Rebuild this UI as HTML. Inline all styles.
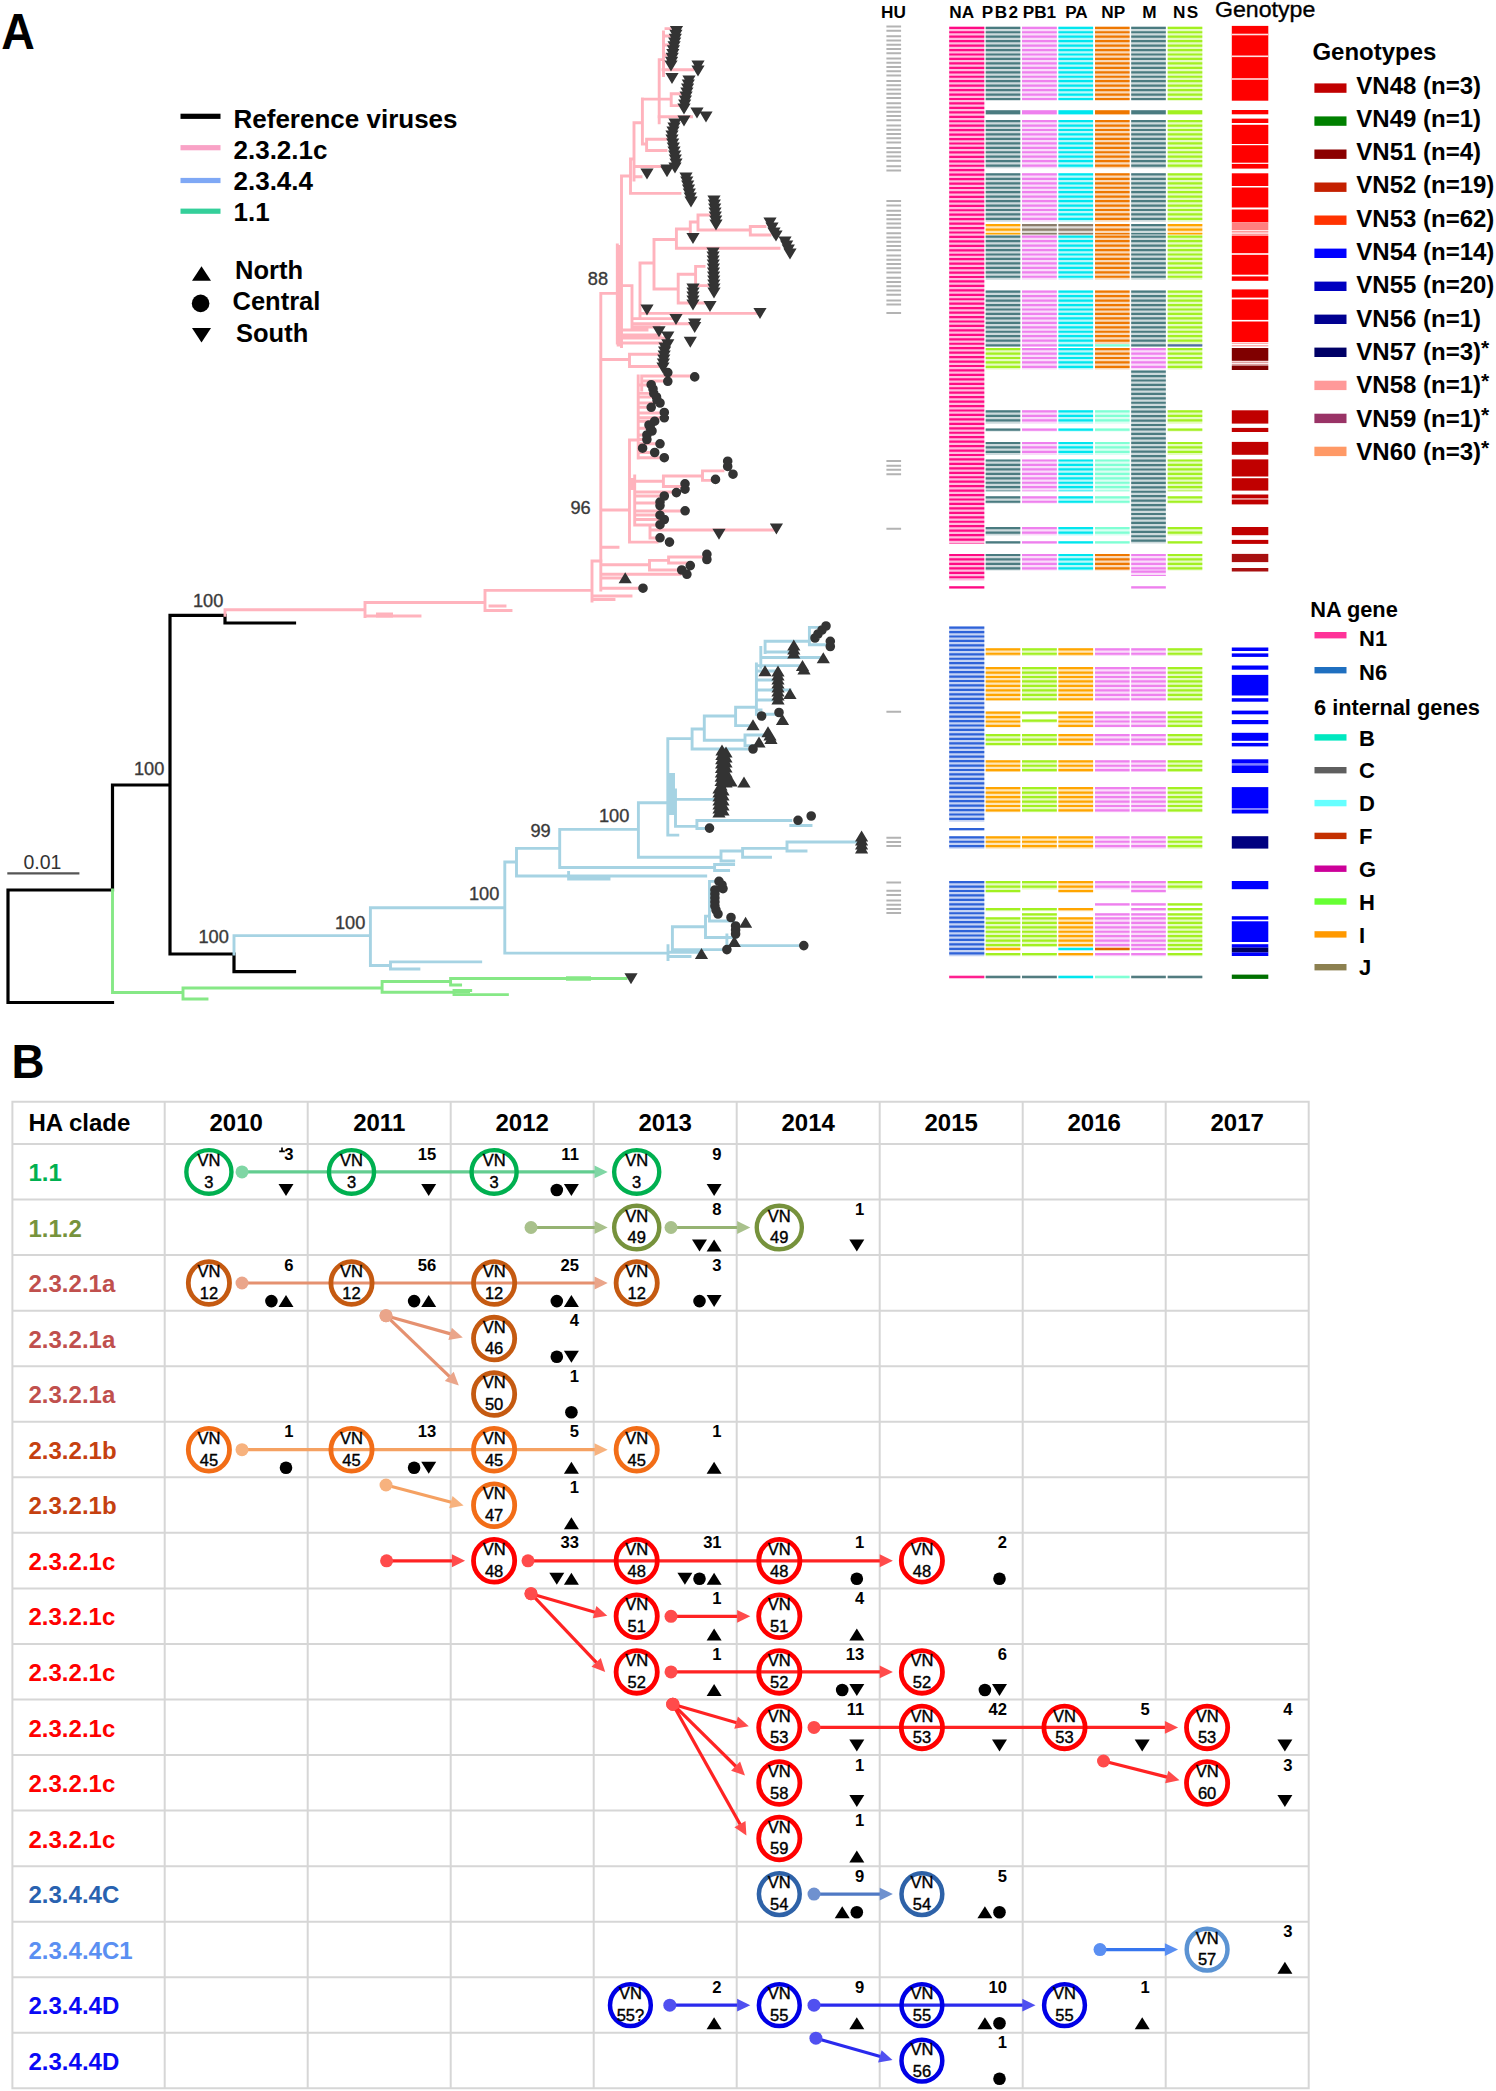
<!DOCTYPE html>
<html><head><meta charset="utf-8"><title>Figure</title>
<style>html,body{margin:0;padding:0;background:#fff;}body{width:1496px;height:2091px;overflow:hidden;font-family:"Liberation Sans",sans-serif;}svg{display:block;}</style>
</head><body>
<svg width="1496" height="2091" viewBox="0 0 1496 2091" font-family="'Liberation Sans', sans-serif">
<rect width="1496" height="2091" fill="#fff"/>
<path d="M8.0 890.0V1002.5M8.0 1002.5H112.5M8.0 890.0H112.5M112.5 785.0V890.0M112.5 785.0H170.0M170.0 615.3V954.0M170.0 615.3H225.0M225.0 615.3V623.0M225.0 623.0H294.5M170.0 954.0H234.0M234.0 954.0V971.6M234.0 971.6H294.5" stroke="#000000" stroke-width="3.2" fill="none" stroke-linecap="square"/>
<path d="M112.5 890.0V992.5M112.5 992.5H183.0M183.0 988.0V999.0M183.0 988.0H382.1M183.0 999.0H207.0M382.1 981.5V992.2M382.1 981.5H450.6M450.6 978.5V985.0M450.6 978.5H626.0M450.6 985.0H460.6M382.1 992.2H454.0M454.0 990.5V994.6M454.0 994.6H507.4M454.0 990.5H470.7" stroke="#86e886" stroke-width="2.9" fill="none" stroke-linecap="square"/>
<path d="M566.0 978.5H591.0M454.0 991.2H470.0" stroke="#86e886" stroke-width="4.5" fill="none"/>
<path d="M234.0 936.0V954.0M234.0 935.6H370.4M370.4 907.7V965.5M370.4 965.5H390.5M390.5 961.9V969.0M390.5 961.9H480.7M390.5 969.0H418.9M370.4 907.7H504.8M504.8 861.9V953.1M504.8 953.1H668.0M504.8 862.0H516.5M516.5 848.4V876.0M516.5 848.4H559.7M516.5 876.0H705.7M568.6 872.5V879.0M568.6 879.0H609.0M559.7 829.4V867.5M559.7 867.5H714.6M714.6 864.5V870.5M714.6 864.5H733.6M714.6 870.5H728.6M559.7 829.4H638.4M638.4 802.7V857.3M638.4 857.3H721.0M721.0 851.0V861.0M721.0 851.0H742.6M742.6 848.4V857.3M742.6 848.4H787.0M787.0 842.0V851.0M787.0 842.0H857.0M787.0 851.0H806.0M742.6 857.3H770.5M721.0 861.0H733.7M638.4 802.7H667.8M667.8 738.6V835.1M667.8 835.1H677.8M675.5 790.0V826.4M675.5 799.4H716.5M675.5 826.4H696.9M696.9 820.5V828.5M696.9 820.5H790.8M696.9 828.5H704.5M790.8 825.5H811.0M667.8 738.6H692.1M692.1 729.0V749.0M692.1 749.0H746.9M692.1 729.0H704.3M704.3 716.0V740.3M704.3 740.3H745.0M745.0 735.0V745.6M745.0 735.0H768.0M745.0 745.6H759.0M704.3 716.0H735.6M735.6 707.3V725.6M735.6 725.6H753.0M735.6 707.3H756.4M756.4 663.9V714.3M756.4 714.3H779.0M756.4 710.0H761.0M756.4 700.0H778.0M756.4 690.0H790.0M756.4 680.0H778.0M756.4 671.0H778.0M756.4 665.6H802.5M760.8 647.4V667.4M765.1 641.3V652.6M765.1 641.3H809.4M809.4 627.4V644.8M809.4 627.4H825.0M809.4 644.8H830.3M765.1 652.0H793.8M760.8 657.5H823.3M668.0 945.6V959.6M672.4 926.8V952.2M668.0 952.2H698.8M668.0 956.5H690.0M672.4 926.8H705.5M705.5 916.1V937.5M705.5 937.5H735.6M705.5 916.1H709.5M709.5 881.4V918.8M709.5 881.4H719.0M709.5 921.0H733.6M726.9 945.6H803.8M672.4 949.6H726.9M726.9 935.0V949.6" stroke="#a6d3e3" stroke-width="2.9" fill="none" stroke-linecap="square"/>
<path d="M671.5 773.0V815.0" stroke="#a6d3e3" stroke-width="7" fill="none"/>
<path d="M225.0 609.8V615.3M225.0 609.8H365.0M365.0 602.5V616.5M365.0 616.0H420.0M365.0 602.5H485.0M485.0 590.4V610.5M485.0 610.5H511.0M490.0 606.0H505.0M485.0 590.4H592.0M592.0 561.0V601.0M592.0 596.0H631.0M592.0 599.5H614.0M592.0 561.0H601.0M600.8 293.4V590.0M601.0 564.7H649.5M649.5 560.4V570.0M649.5 560.4H668.6M668.6 557.0V563.0M668.6 557.0H702.5M668.6 563.0H690.0M649.5 570.0H680.0M601.0 574.3H680.0M601.0 578.0H625.0M601.0 588.2H638.0M601.0 547.3H618.0M601.0 510.0H629.5M629.5 440.0V542.0M629.5 542.1H657.0M650.0 530.0H776.0M650.0 525.0V538.0M650.0 538.0H660.0M634.7 481.3H663.4M663.4 476.0V486.5M663.4 476.0H702.5M702.5 470.9V480.4M702.5 470.9H723.0M702.5 480.4H715.0M663.4 486.5H681.7M634.7 476.0V525.0M634.7 492.0H676.0M634.7 496.0H664.0M634.7 503.0H660.0M634.7 511.0H685.0M634.7 515.0H660.0M634.7 519.5H664.0M634.7 525.0H660.0M601.0 359.5H629.5M629.5 354.3V366.5M629.5 354.3H658.0M629.5 366.5H658.0M629.5 440.0H638.2M638.2 376.0V458.0M641.7 376.0V390.0M641.7 376.0H694.7M641.7 381.0H668.0M638.2 385.0H651.0M638.2 393.4H654.0M638.2 397.0H656.0M638.2 403.0H660.0M638.2 407.3H651.0M638.2 413.0H664.0M638.2 417.8H664.0M638.2 421.2H655.0M638.2 428.2H650.0M638.2 435.0H647.0M638.2 439.5H647.0M638.2 443.8H660.0M638.2 448.2H643.0M638.2 452.5H655.0M638.2 457.7H664.0M601.0 293.4H617.3M617.3 245.0V343.0M617.3 343.0H661.0M621.5 176.0V346.5M621.5 330.0H647.0M621.5 335.0H660.0M621.5 338.0H668.0M640.0 313.4H760.0M640.0 263.0V317.0M640.0 263.0H654.0M654.0 239.5V289.0M654.0 239.5H676.4M676.4 229.0V248.2M676.4 248.2H779.0M676.4 229.0H690.3M690.3 222.0V237.0M690.3 237.0H693.0M690.3 222.0H698.0M698.0 215.0V230.0M698.0 215.0H709.5M698.0 230.0H750.3M750.3 226.5V235.0M750.3 226.5H765.0M750.3 235.0H770.0M654.0 289.0H678.2M678.2 274.3V303.0M678.2 274.3H695.6M695.6 266.4V285.6M695.6 266.4H704.0M695.6 285.6H707.7M678.2 303.0H704.0M632.0 285.6V327.0M632.0 318.6H676.0M632.0 323.8H694.0M632.0 327.0H659.0M621.5 285.6H632.0M621.5 176.0H630.5M630.5 159.0V193.4M630.5 193.4H680.0M630.5 159.0H634.0M634.0 122.7V180.0M634.0 166.5H667.0M634.0 176.7H641.0M634.0 122.7H642.4M642.4 99.0V144.0M642.4 144.0H646.6M646.6 139.3V150.5M646.6 139.3H666.0M646.6 150.5H666.0M642.4 99.1H671.2M671.2 93.8V105.6M671.2 93.8H685.0M671.2 105.6H682.0M659.2 59.6V122.7M659.2 59.6H663.5M663.5 32.0V75.6M663.0 69.7H692.6M659.0 116.8H691.5M666.0 28.6H670.0M663.5 36.0H676.0M663.5 45.0H675.0M663.5 55.0H673.0" stroke="#ffb3bd" stroke-width="2.9" fill="none" stroke-linecap="square"/>
<path d="M619.2 245.0V346.5M632.2 478.0V490.0M376.0 615.0H393.0" stroke="#ffb3bd" stroke-width="5" fill="none"/>
<path d="M7.3 873.4H79.4" stroke="#555" stroke-width="2.2"/>
<text x="42.5" y="869" font-size="19.5" text-anchor="middle" fill="#333">0.01</text>
<text x="193" y="606.5" font-size="18.2" fill="#3a3a3a" stroke="#3a3a3a" stroke-width="0.35">100</text>
<text x="134" y="775" font-size="18.2" fill="#3a3a3a" stroke="#3a3a3a" stroke-width="0.35">100</text>
<text x="198.5" y="943" font-size="18.2" fill="#3a3a3a" stroke="#3a3a3a" stroke-width="0.35">100</text>
<text x="335" y="928.7" font-size="18.2" fill="#3a3a3a" stroke="#3a3a3a" stroke-width="0.35">100</text>
<text x="469" y="899.6" font-size="18.2" fill="#3a3a3a" stroke="#3a3a3a" stroke-width="0.35">100</text>
<text x="530.5" y="837" font-size="18.2" fill="#3a3a3a" stroke="#3a3a3a" stroke-width="0.35">99</text>
<text x="599" y="822" font-size="18.2" fill="#3a3a3a" stroke="#3a3a3a" stroke-width="0.35">100</text>
<text x="587.8" y="284.5" font-size="18.2" fill="#3a3a3a" stroke="#3a3a3a" stroke-width="0.35">88</text>
<text x="570.4" y="514.3" font-size="18.2" fill="#3a3a3a" stroke="#3a3a3a" stroke-width="0.35">96</text>
<path d="M669.9 26.0h13.2l-6.6 11.0zM669.3 29.8h13.2l-6.6 11.0zM668.7 33.7h13.2l-6.6 11.0zM668.1 37.5h13.2l-6.6 11.0zM667.5 41.3h13.2l-6.6 11.0zM666.8 45.2h13.2l-6.6 11.0zM666.2 49.0h13.2l-6.6 11.0zM665.6 52.8h13.2l-6.6 11.0zM665.0 56.7h13.2l-6.6 11.0zM664.4 60.5h13.2l-6.6 11.0zM691.4 60.5h13.2l-6.6 11.0zM691.4 65.5h13.2l-6.6 11.0zM665.4 73.0h13.2l-6.6 11.0zM682.4 75.5h13.2l-6.6 11.0zM681.7 79.5h13.2l-6.6 11.0zM681.0 83.5h13.2l-6.6 11.0zM680.3 87.5h13.2l-6.6 11.0zM679.5 91.5h13.2l-6.6 11.0zM678.8 95.5h13.2l-6.6 11.0zM678.1 99.5h13.2l-6.6 11.0zM677.4 103.5h13.2l-6.6 11.0zM690.4 107.5h13.2l-6.6 11.0zM699.4 111.5h13.2l-6.6 11.0zM677.4 115.5h13.2l-6.6 11.0zM668.4 118.5h13.2l-6.6 11.0zM667.4 122.5h13.2l-6.6 11.0zM666.4 126.5h13.2l-6.6 11.0zM665.4 130.5h13.2l-6.6 11.0zM665.4 134.5h13.2l-6.6 11.0zM666.1 138.5h13.2l-6.6 11.0zM666.7 142.5h13.2l-6.6 11.0zM667.4 146.5h13.2l-6.6 11.0zM668.1 150.5h13.2l-6.6 11.0zM668.7 154.5h13.2l-6.6 11.0zM669.4 158.5h13.2l-6.6 11.0zM668.4 162.5h13.2l-6.6 11.0zM660.4 164.5h13.2l-6.6 11.0zM640.4 168.5h13.2l-6.6 11.0zM660.4 166.2h13.2l-6.6 11.0zM679.4 172.5h13.2l-6.6 11.0zM680.2 176.5h13.2l-6.6 11.0zM681.1 180.5h13.2l-6.6 11.0zM681.9 184.5h13.2l-6.6 11.0zM682.7 188.5h13.2l-6.6 11.0zM683.6 192.5h13.2l-6.6 11.0zM684.4 196.5h13.2l-6.6 11.0zM706.4 247.5h13.2l-6.6 11.0zM706.5 251.5h13.2l-6.6 11.0zM706.6 255.5h13.2l-6.6 11.0zM706.7 259.5h13.2l-6.6 11.0zM706.8 263.5h13.2l-6.6 11.0zM706.9 267.5h13.2l-6.6 11.0zM707.0 271.5h13.2l-6.6 11.0zM707.1 275.5h13.2l-6.6 11.0zM707.2 279.5h13.2l-6.6 11.0zM707.3 283.5h13.2l-6.6 11.0zM707.4 287.5h13.2l-6.6 11.0zM707.4 195.5h13.2l-6.6 11.0zM707.7 199.5h13.2l-6.6 11.0zM708.1 203.5h13.2l-6.6 11.0zM708.4 207.5h13.2l-6.6 11.0zM708.7 211.5h13.2l-6.6 11.0zM709.1 215.5h13.2l-6.6 11.0zM709.4 219.5h13.2l-6.6 11.0zM686.4 233.1h13.2l-6.6 11.0zM763.4 217.5h13.2l-6.6 11.0zM765.4 222.5h13.2l-6.6 11.0zM767.4 227.5h13.2l-6.6 11.0zM778.4 236.5h13.2l-6.6 11.0zM780.1 240.5h13.2l-6.6 11.0zM781.7 244.5h13.2l-6.6 11.0zM783.4 248.5h13.2l-6.6 11.0zM769.4 230.5h13.2l-6.6 11.0zM765.4 222.5h13.2l-6.6 11.0zM686.4 283.5h13.2l-6.6 11.0zM686.4 287.5h13.2l-6.6 11.0zM686.4 291.5h13.2l-6.6 11.0zM686.4 295.5h13.2l-6.6 11.0zM686.4 299.5h13.2l-6.6 11.0zM703.4 300.9h13.2l-6.6 11.0zM640.4 304.5h13.2l-6.6 11.0zM753.4 307.9h13.2l-6.6 11.0zM669.4 314.0h13.2l-6.6 11.0zM688.1 318.5h13.2l-6.6 11.0zM688.1 321.9h13.2l-6.6 11.0zM652.4 326.2h13.2l-6.6 11.0zM661.2 331.5h13.2l-6.6 11.0zM683.7 336.7h13.2l-6.6 11.0zM661.2 339.3h13.2l-6.6 11.0zM658.4 342.5h13.2l-6.6 11.0zM658.0 346.5h13.2l-6.6 11.0zM657.6 350.5h13.2l-6.6 11.0zM657.2 354.5h13.2l-6.6 11.0zM656.8 358.5h13.2l-6.6 11.0zM656.4 362.5h13.2l-6.6 11.0zM769.8 523.6h13.2l-6.6 11.0zM712.4 528.8h13.2l-6.6 11.0zM624.4 973.3h13.2l-6.6 11.0z" fill="#333333"/>
<path d="M618.6 583.2h13.2l-6.6 -11.0zM787.2 650.5h13.2l-6.6 -11.0zM787.2 654.5h13.2l-6.6 -11.0zM787.2 658.5h13.2l-6.6 -11.0zM816.7 663.3h13.2l-6.6 -11.0zM795.9 671.1h13.2l-6.6 -11.0zM797.4 674.5h13.2l-6.6 -11.0zM758.4 676.3h13.2l-6.6 -11.0zM771.4 676.5h13.2l-6.6 -11.0zM771.4 680.5h13.2l-6.6 -11.0zM771.4 684.5h13.2l-6.6 -11.0zM771.4 688.5h13.2l-6.6 -11.0zM771.4 692.5h13.2l-6.6 -11.0zM771.4 696.5h13.2l-6.6 -11.0zM771.4 700.5h13.2l-6.6 -11.0zM771.4 704.5h13.2l-6.6 -11.0zM783.4 698.9h13.2l-6.6 -11.0zM775.9 725.0h13.2l-6.6 -11.0zM761.4 737.2h13.2l-6.6 -11.0zM763.4 740.5h13.2l-6.6 -11.0zM764.4 744.1h13.2l-6.6 -11.0zM752.4 747.5h13.2l-6.6 -11.0zM746.4 730.2h13.2l-6.6 -11.0zM715.4 755.5h13.2l-6.6 -11.0zM715.3 759.9h13.2l-6.6 -11.0zM715.1 764.2h13.2l-6.6 -11.0zM715.0 768.6h13.2l-6.6 -11.0zM714.9 773.0h13.2l-6.6 -11.0zM714.8 777.4h13.2l-6.6 -11.0zM714.6 781.8h13.2l-6.6 -11.0zM714.5 786.1h13.2l-6.6 -11.0zM714.4 790.5h13.2l-6.6 -11.0zM719.4 757.5h13.2l-6.6 -11.0zM719.4 762.5h13.2l-6.6 -11.0zM719.4 767.5h13.2l-6.6 -11.0zM719.4 772.5h13.2l-6.6 -11.0zM719.4 777.5h13.2l-6.6 -11.0zM719.4 782.5h13.2l-6.6 -11.0zM719.4 787.5h13.2l-6.6 -11.0zM712.4 793.5h13.2l-6.6 -11.0zM712.4 797.5h13.2l-6.6 -11.0zM712.4 801.5h13.2l-6.6 -11.0zM712.4 805.5h13.2l-6.6 -11.0zM712.4 809.5h13.2l-6.6 -11.0zM712.4 813.5h13.2l-6.6 -11.0zM712.4 817.5h13.2l-6.6 -11.0zM716.4 795.5h13.2l-6.6 -11.0zM716.4 800.5h13.2l-6.6 -11.0zM716.4 805.5h13.2l-6.6 -11.0zM716.4 810.5h13.2l-6.6 -11.0zM716.4 815.5h13.2l-6.6 -11.0zM737.4 787.5h13.2l-6.6 -11.0zM724.4 786.5h13.2l-6.6 -11.0zM855.0 841.5h13.2l-6.6 -11.0zM855.0 845.5h13.2l-6.6 -11.0zM855.0 849.5h13.2l-6.6 -11.0zM855.0 853.5h13.2l-6.6 -11.0zM739.0 927.7h13.2l-6.6 -11.0zM727.7 947.1h13.2l-6.6 -11.0zM694.9 959.1h13.2l-6.6 -11.0z" fill="#333333"/>
<path d="M663.0 372.6a4.8 4.8 0 1 0 9.6 0a4.8 4.8 0 1 0 -9.6 0zM689.9 376.9a4.8 4.8 0 1 0 9.6 0a4.8 4.8 0 1 0 -9.6 0zM663.0 381.3a4.8 4.8 0 1 0 9.6 0a4.8 4.8 0 1 0 -9.6 0zM646.4 384.7a4.8 4.8 0 1 0 9.6 0a4.8 4.8 0 1 0 -9.6 0zM649.0 393.4a4.8 4.8 0 1 0 9.6 0a4.8 4.8 0 1 0 -9.6 0zM651.7 397.0a4.8 4.8 0 1 0 9.6 0a4.8 4.8 0 1 0 -9.6 0zM655.2 403.0a4.8 4.8 0 1 0 9.6 0a4.8 4.8 0 1 0 -9.6 0zM646.4 407.3a4.8 4.8 0 1 0 9.6 0a4.8 4.8 0 1 0 -9.6 0zM659.5 412.5a4.8 4.8 0 1 0 9.6 0a4.8 4.8 0 1 0 -9.6 0zM659.5 417.8a4.8 4.8 0 1 0 9.6 0a4.8 4.8 0 1 0 -9.6 0zM649.9 421.2a4.8 4.8 0 1 0 9.6 0a4.8 4.8 0 1 0 -9.6 0zM645.6 428.2a4.8 4.8 0 1 0 9.6 0a4.8 4.8 0 1 0 -9.6 0zM642.1 435.0a4.8 4.8 0 1 0 9.6 0a4.8 4.8 0 1 0 -9.6 0zM642.1 439.5a4.8 4.8 0 1 0 9.6 0a4.8 4.8 0 1 0 -9.6 0zM655.2 443.8a4.8 4.8 0 1 0 9.6 0a4.8 4.8 0 1 0 -9.6 0zM637.8 448.2a4.8 4.8 0 1 0 9.6 0a4.8 4.8 0 1 0 -9.6 0zM649.9 452.5a4.8 4.8 0 1 0 9.6 0a4.8 4.8 0 1 0 -9.6 0zM659.5 457.7a4.8 4.8 0 1 0 9.6 0a4.8 4.8 0 1 0 -9.6 0zM722.9 461.2a4.8 4.8 0 1 0 9.6 0a4.8 4.8 0 1 0 -9.6 0zM722.9 466.4a4.8 4.8 0 1 0 9.6 0a4.8 4.8 0 1 0 -9.6 0zM728.2 474.2a4.8 4.8 0 1 0 9.6 0a4.8 4.8 0 1 0 -9.6 0zM710.7 479.4a4.8 4.8 0 1 0 9.6 0a4.8 4.8 0 1 0 -9.6 0zM680.2 483.8a4.8 4.8 0 1 0 9.6 0a4.8 4.8 0 1 0 -9.6 0zM680.2 489.1a4.8 4.8 0 1 0 9.6 0a4.8 4.8 0 1 0 -9.6 0zM671.6 492.6a4.8 4.8 0 1 0 9.6 0a4.8 4.8 0 1 0 -9.6 0zM659.5 496.0a4.8 4.8 0 1 0 9.6 0a4.8 4.8 0 1 0 -9.6 0zM655.2 502.1a4.8 4.8 0 1 0 9.6 0a4.8 4.8 0 1 0 -9.6 0zM655.2 505.6a4.8 4.8 0 1 0 9.6 0a4.8 4.8 0 1 0 -9.6 0zM680.3 510.8a4.8 4.8 0 1 0 9.6 0a4.8 4.8 0 1 0 -9.6 0zM655.2 515.2a4.8 4.8 0 1 0 9.6 0a4.8 4.8 0 1 0 -9.6 0zM659.5 519.5a4.8 4.8 0 1 0 9.6 0a4.8 4.8 0 1 0 -9.6 0zM655.2 524.7a4.8 4.8 0 1 0 9.6 0a4.8 4.8 0 1 0 -9.6 0zM655.2 537.8a4.8 4.8 0 1 0 9.6 0a4.8 4.8 0 1 0 -9.6 0zM664.7 542.1a4.8 4.8 0 1 0 9.6 0a4.8 4.8 0 1 0 -9.6 0zM702.1 554.3a4.8 4.8 0 1 0 9.6 0a4.8 4.8 0 1 0 -9.6 0zM702.1 559.5a4.8 4.8 0 1 0 9.6 0a4.8 4.8 0 1 0 -9.6 0zM685.5 565.6a4.8 4.8 0 1 0 9.6 0a4.8 4.8 0 1 0 -9.6 0zM676.9 570.0a4.8 4.8 0 1 0 9.6 0a4.8 4.8 0 1 0 -9.6 0zM682.1 574.3a4.8 4.8 0 1 0 9.6 0a4.8 4.8 0 1 0 -9.6 0zM638.2 588.2a4.8 4.8 0 1 0 9.6 0a4.8 4.8 0 1 0 -9.6 0zM648.2 389.0a4.8 4.8 0 1 0 9.6 0a4.8 4.8 0 1 0 -9.6 0zM652.2 400.0a4.8 4.8 0 1 0 9.6 0a4.8 4.8 0 1 0 -9.6 0zM647.2 431.0a4.8 4.8 0 1 0 9.6 0a4.8 4.8 0 1 0 -9.6 0zM644.2 425.0a4.8 4.8 0 1 0 9.6 0a4.8 4.8 0 1 0 -9.6 0zM821.2 626.0a4.8 4.8 0 1 0 9.6 0a4.8 4.8 0 1 0 -9.6 0zM817.2 630.0a4.8 4.8 0 1 0 9.6 0a4.8 4.8 0 1 0 -9.6 0zM813.2 634.0a4.8 4.8 0 1 0 9.6 0a4.8 4.8 0 1 0 -9.6 0zM810.2 638.0a4.8 4.8 0 1 0 9.6 0a4.8 4.8 0 1 0 -9.6 0zM825.5 641.3a4.8 4.8 0 1 0 9.6 0a4.8 4.8 0 1 0 -9.6 0zM825.5 646.5a4.8 4.8 0 1 0 9.6 0a4.8 4.8 0 1 0 -9.6 0zM756.8 716.0a4.8 4.8 0 1 0 9.6 0a4.8 4.8 0 1 0 -9.6 0zM774.2 712.5a4.8 4.8 0 1 0 9.6 0a4.8 4.8 0 1 0 -9.6 0zM748.2 749.0a4.8 4.8 0 1 0 9.6 0a4.8 4.8 0 1 0 -9.6 0zM704.7 828.1a4.8 4.8 0 1 0 9.6 0a4.8 4.8 0 1 0 -9.6 0zM793.2 820.3a4.8 4.8 0 1 0 9.6 0a4.8 4.8 0 1 0 -9.6 0zM806.4 816.0a4.8 4.8 0 1 0 9.6 0a4.8 4.8 0 1 0 -9.6 0zM714.2 881.4a4.8 4.8 0 1 0 9.6 0a4.8 4.8 0 1 0 -9.6 0zM717.2 885.0a4.8 4.8 0 1 0 9.6 0a4.8 4.8 0 1 0 -9.6 0zM718.2 888.6a4.8 4.8 0 1 0 9.6 0a4.8 4.8 0 1 0 -9.6 0zM710.1 890.0a4.8 4.8 0 1 0 9.6 0a4.8 4.8 0 1 0 -9.6 0zM710.1 894.0a4.8 4.8 0 1 0 9.6 0a4.8 4.8 0 1 0 -9.6 0zM710.1 898.0a4.8 4.8 0 1 0 9.6 0a4.8 4.8 0 1 0 -9.6 0zM710.1 902.0a4.8 4.8 0 1 0 9.6 0a4.8 4.8 0 1 0 -9.6 0zM710.1 906.0a4.8 4.8 0 1 0 9.6 0a4.8 4.8 0 1 0 -9.6 0zM711.2 910.0a4.8 4.8 0 1 0 9.6 0a4.8 4.8 0 1 0 -9.6 0zM713.2 914.0a4.8 4.8 0 1 0 9.6 0a4.8 4.8 0 1 0 -9.6 0zM726.2 917.5a4.8 4.8 0 1 0 9.6 0a4.8 4.8 0 1 0 -9.6 0zM730.8 926.0a4.8 4.8 0 1 0 9.6 0a4.8 4.8 0 1 0 -9.6 0zM730.8 930.0a4.8 4.8 0 1 0 9.6 0a4.8 4.8 0 1 0 -9.6 0zM730.8 934.0a4.8 4.8 0 1 0 9.6 0a4.8 4.8 0 1 0 -9.6 0zM722.1 949.6a4.8 4.8 0 1 0 9.6 0a4.8 4.8 0 1 0 -9.6 0zM799.0 945.6a4.8 4.8 0 1 0 9.6 0a4.8 4.8 0 1 0 -9.6 0z" fill="#333333"/>
<path d="M949.2 26.70h35.1v516.70h-35.1zM949.2 553.90h35.1v26.50h-35.1zM949.2 586.20h35.1v2.40h-35.1z" fill="#ff0a84" fill-opacity="0.28"/>
<path d="M949.2 626.50h35.1v195.20h-35.1zM949.2 828.00h35.1v2.60h-35.1zM949.2 836.20h35.1v12.60h-35.1zM949.2 881.00h35.1v75.20h-35.1z" fill="#2e62d8" fill-opacity="0.28"/>
<path d="M949.2 975.80h35.1v3.20h-35.1z" fill="#ff2090" fill-opacity="0.28"/>
<path d="M985.7 26.70h34.6v74.00h-34.6zM985.7 120.00h34.6v48.20h-34.6zM985.7 173.30h34.6v48.50h-34.6zM985.7 235.60h34.6v44.20h-34.6zM985.7 290.60h34.6v53.40h-34.6zM985.7 344.20h34.6v2.30h-34.6zM985.7 410.30h34.6v13.50h-34.6zM985.7 428.50h34.6v3.10h-34.6zM985.7 441.90h34.6v13.10h-34.6zM985.7 459.40h34.6v31.80h-34.6zM985.7 496.20h34.6v7.20h-34.6zM985.7 527.00h34.6v8.50h-34.6zM985.7 541.30h34.6v2.30h-34.6zM985.7 553.90h34.6v16.60h-34.6zM1131.2 26.70h34.6v74.00h-34.6zM1131.2 120.00h34.6v48.20h-34.6zM1131.2 173.30h34.6v48.50h-34.6zM1131.2 224.00h34.6v10.50h-34.6zM1131.2 235.60h34.6v44.20h-34.6zM1131.2 290.60h34.6v53.40h-34.6zM1131.2 344.20h34.6v2.30h-34.6zM1131.2 370.50h34.6v172.90h-34.6z" fill="#4a7b80" fill-opacity="0.28"/>
<path d="M985.7 224.00h34.6v10.50h-34.6zM985.7 648.20h34.6v7.80h-34.6zM985.7 667.00h34.6v33.70h-34.6zM985.7 711.50h34.6v15.70h-34.6zM985.7 760.20h34.6v11.90h-34.6zM985.7 787.10h34.6v25.20h-34.6zM985.7 836.20h34.6v12.60h-34.6zM985.7 947.70h34.6v3.30h-34.6zM1022.0 836.20h34.8v12.60h-34.8zM1058.4 648.20h34.7v7.80h-34.7zM1058.4 667.00h34.7v33.70h-34.7zM1058.4 711.50h34.7v15.70h-34.7zM1058.4 734.00h34.7v11.90h-34.7zM1058.4 760.20h34.7v11.90h-34.7zM1058.4 787.10h34.7v25.20h-34.7zM1058.4 836.20h34.7v12.60h-34.7zM1058.4 881.00h34.7v12.00h-34.7zM1058.4 908.00h34.7v3.20h-34.7zM1058.4 917.30h34.7v29.50h-34.7zM1058.4 953.10h34.7v3.10h-34.7zM1167.7 224.00h34.6v10.50h-34.6z" fill="#ffa500" fill-opacity="0.28"/>
<path d="M985.7 348.00h34.6v21.50h-34.6zM985.7 734.00h34.6v11.90h-34.6zM985.7 881.00h34.6v12.00h-34.6zM985.7 908.00h34.6v3.20h-34.6zM985.7 917.30h34.6v29.50h-34.6zM985.7 953.10h34.6v3.10h-34.6zM1022.0 648.20h34.8v7.80h-34.8zM1022.0 667.00h34.8v33.70h-34.8zM1022.0 711.50h34.8v3.30h-34.8zM1022.0 719.50h34.8v3.30h-34.8zM1022.0 734.00h34.8v11.90h-34.8zM1022.0 760.20h34.8v11.90h-34.8zM1022.0 787.10h34.8v25.20h-34.8zM1022.0 881.00h34.8v8.40h-34.8zM1022.0 908.00h34.8v3.20h-34.8zM1022.0 913.30h34.8v3.10h-34.8zM1022.0 917.30h34.8v29.50h-34.8zM1022.0 953.10h34.8v3.10h-34.8zM1167.7 26.70h34.6v74.00h-34.6zM1167.7 120.00h34.6v48.20h-34.6zM1167.7 173.30h34.6v48.50h-34.6zM1167.7 235.60h34.6v44.20h-34.6zM1167.7 290.60h34.6v53.40h-34.6zM1167.7 348.00h34.6v21.50h-34.6zM1167.7 410.30h34.6v13.50h-34.6zM1167.7 428.50h34.6v3.10h-34.6zM1167.7 441.90h34.6v13.10h-34.6zM1167.7 459.40h34.6v31.80h-34.6zM1167.7 496.20h34.6v7.20h-34.6zM1167.7 527.00h34.6v8.50h-34.6zM1167.7 541.30h34.6v2.30h-34.6zM1167.7 553.90h34.6v16.60h-34.6zM1167.7 648.20h34.6v7.80h-34.6zM1167.7 667.00h34.6v33.70h-34.6zM1167.7 711.50h34.6v15.70h-34.6zM1167.7 734.00h34.6v11.90h-34.6zM1167.7 760.20h34.6v11.90h-34.6zM1167.7 787.10h34.6v25.20h-34.6zM1167.7 836.20h34.6v12.60h-34.6zM1167.7 881.00h34.6v8.40h-34.6zM1167.7 903.30h34.6v2.50h-34.6zM1167.7 908.00h34.6v3.20h-34.6zM1167.7 913.30h34.6v3.10h-34.6zM1167.7 917.30h34.6v29.50h-34.6zM1167.7 947.70h34.6v3.30h-34.6zM1167.7 953.10h34.6v3.10h-34.6z" fill="#a2f020" fill-opacity="0.28"/>
<path d="M985.7 975.80h34.6v3.20h-34.6zM1022.0 975.80h34.8v3.20h-34.8zM1131.2 975.80h34.6v3.20h-34.6zM1167.7 975.80h34.6v3.20h-34.6z" fill="#527c80" fill-opacity="0.28"/>
<path d="M1022.0 26.70h34.8v74.00h-34.8zM1022.0 120.00h34.8v48.20h-34.8zM1022.0 173.30h34.8v48.50h-34.8zM1022.0 235.60h34.8v44.20h-34.8zM1022.0 290.60h34.8v53.40h-34.8zM1022.0 344.20h34.8v2.30h-34.8zM1022.0 348.00h34.8v21.50h-34.8zM1022.0 410.30h34.8v13.50h-34.8zM1022.0 428.50h34.8v3.10h-34.8zM1022.0 441.90h34.8v13.10h-34.8zM1022.0 459.40h34.8v31.80h-34.8zM1022.0 496.20h34.8v7.20h-34.8zM1022.0 527.00h34.8v8.50h-34.8zM1022.0 541.30h34.8v2.30h-34.8zM1022.0 553.90h34.8v16.60h-34.8zM1095.0 648.20h34.6v7.80h-34.6zM1095.0 667.00h34.6v33.70h-34.6zM1095.0 711.50h34.6v15.70h-34.6zM1095.0 734.00h34.6v11.90h-34.6zM1095.0 760.20h34.6v11.90h-34.6zM1095.0 787.10h34.6v25.20h-34.6zM1095.0 836.20h34.6v12.60h-34.6zM1095.0 881.00h34.6v8.40h-34.6zM1095.0 903.30h34.6v2.50h-34.6zM1095.0 913.30h34.6v3.10h-34.6zM1095.0 917.30h34.6v29.50h-34.6zM1095.0 953.10h34.6v3.10h-34.6zM1131.2 348.00h34.6v21.50h-34.6zM1131.2 553.90h34.6v16.60h-34.6zM1131.2 570.50h34.6v5.50h-34.6zM1131.2 586.20h34.6v2.40h-34.6zM1131.2 648.20h34.6v7.80h-34.6zM1131.2 667.00h34.6v33.70h-34.6zM1131.2 711.50h34.6v15.70h-34.6zM1131.2 734.00h34.6v11.90h-34.6zM1131.2 760.20h34.6v11.90h-34.6zM1131.2 787.10h34.6v25.20h-34.6zM1131.2 836.20h34.6v12.60h-34.6zM1131.2 881.00h34.6v12.00h-34.6zM1131.2 903.30h34.6v2.50h-34.6zM1131.2 908.00h34.6v3.20h-34.6zM1131.2 913.30h34.6v3.10h-34.6zM1131.2 917.30h34.6v29.50h-34.6zM1131.2 947.70h34.6v3.30h-34.6zM1131.2 953.10h34.6v3.10h-34.6z" fill="#ee80ee" fill-opacity="0.28"/>
<path d="M1022.0 224.00h34.8v10.50h-34.8zM1058.4 224.00h34.7v10.50h-34.7z" fill="#8b7d6b" fill-opacity="0.28"/>
<path d="M1058.4 26.70h34.7v74.00h-34.7zM1058.4 120.00h34.7v48.20h-34.7zM1058.4 173.30h34.7v48.50h-34.7zM1058.4 235.60h34.7v44.20h-34.7zM1058.4 290.60h34.7v53.40h-34.7zM1058.4 344.20h34.7v2.30h-34.7zM1058.4 348.00h34.7v21.50h-34.7zM1058.4 410.30h34.7v13.50h-34.7zM1058.4 428.50h34.7v3.10h-34.7zM1058.4 441.90h34.7v13.10h-34.7zM1058.4 459.40h34.7v31.80h-34.7zM1058.4 496.20h34.7v7.20h-34.7zM1058.4 527.00h34.7v8.50h-34.7zM1058.4 541.30h34.7v2.30h-34.7zM1058.4 553.90h34.7v16.60h-34.7zM1058.4 947.70h34.7v3.30h-34.7zM1058.4 975.80h34.7v3.20h-34.7z" fill="#00e6ee" fill-opacity="0.28"/>
<path d="M1095.0 26.70h34.6v74.00h-34.6zM1095.0 120.00h34.6v48.20h-34.6zM1095.0 173.30h34.6v48.50h-34.6zM1095.0 224.00h34.6v10.50h-34.6zM1095.0 235.60h34.6v44.20h-34.6zM1095.0 290.60h34.6v53.40h-34.6zM1095.0 348.00h34.6v21.50h-34.6zM1095.0 553.90h34.6v16.60h-34.6z" fill="#ee7700" fill-opacity="0.28"/>
<path d="M1095.0 344.20h34.6v2.30h-34.6zM1095.0 410.30h34.6v13.50h-34.6zM1095.0 428.50h34.6v3.10h-34.6zM1095.0 441.90h34.6v13.10h-34.6zM1095.0 459.40h34.6v31.80h-34.6zM1095.0 496.20h34.6v7.20h-34.6zM1095.0 527.00h34.6v8.50h-34.6zM1095.0 541.30h34.6v2.30h-34.6zM1095.0 975.80h34.6v3.20h-34.6z" fill="#7fffd4" fill-opacity="0.28"/>
<path d="M1095.0 947.70h34.6v3.30h-34.6z" fill="#e06000" fill-opacity="0.28"/>
<path d="M1167.7 344.20h34.6v2.30h-34.6z" fill="#4f6f9f" fill-opacity="0.28"/>
<path d="M949.2 26.70h35.1v2.20h-35.1zM949.2 31.15h35.1v2.20h-35.1zM949.2 35.60h35.1v2.20h-35.1zM949.2 40.05h35.1v2.20h-35.1zM949.2 44.50h35.1v2.20h-35.1zM949.2 48.95h35.1v2.20h-35.1zM949.2 53.40h35.1v2.20h-35.1zM949.2 57.85h35.1v2.20h-35.1zM949.2 62.30h35.1v2.20h-35.1zM949.2 66.75h35.1v2.20h-35.1zM949.2 71.20h35.1v2.20h-35.1zM949.2 75.65h35.1v2.20h-35.1zM949.2 80.10h35.1v2.20h-35.1zM949.2 84.55h35.1v2.20h-35.1zM949.2 89.00h35.1v2.20h-35.1zM949.2 93.45h35.1v2.20h-35.1zM949.2 97.90h35.1v2.20h-35.1zM949.2 102.35h35.1v2.20h-35.1zM949.2 106.80h35.1v2.20h-35.1zM949.2 111.25h35.1v2.20h-35.1zM949.2 115.70h35.1v2.20h-35.1zM949.2 120.15h35.1v2.20h-35.1zM949.2 124.60h35.1v2.20h-35.1zM949.2 129.05h35.1v2.20h-35.1zM949.2 133.50h35.1v2.20h-35.1zM949.2 137.95h35.1v2.20h-35.1zM949.2 142.40h35.1v2.20h-35.1zM949.2 146.85h35.1v2.20h-35.1zM949.2 151.30h35.1v2.20h-35.1zM949.2 155.75h35.1v2.20h-35.1zM949.2 160.20h35.1v2.20h-35.1zM949.2 164.65h35.1v2.20h-35.1zM949.2 169.10h35.1v2.20h-35.1zM949.2 173.55h35.1v2.20h-35.1zM949.2 178.00h35.1v2.20h-35.1zM949.2 182.45h35.1v2.20h-35.1zM949.2 186.90h35.1v2.20h-35.1zM949.2 191.35h35.1v2.20h-35.1zM949.2 195.80h35.1v2.20h-35.1zM949.2 200.25h35.1v2.20h-35.1zM949.2 204.70h35.1v2.20h-35.1zM949.2 209.15h35.1v2.20h-35.1zM949.2 213.60h35.1v2.20h-35.1zM949.2 218.05h35.1v2.20h-35.1zM949.2 222.50h35.1v2.20h-35.1zM949.2 226.95h35.1v2.20h-35.1zM949.2 231.40h35.1v2.20h-35.1zM949.2 235.85h35.1v2.20h-35.1zM949.2 240.30h35.1v2.20h-35.1zM949.2 244.75h35.1v2.20h-35.1zM949.2 249.20h35.1v2.20h-35.1zM949.2 253.65h35.1v2.20h-35.1zM949.2 258.10h35.1v2.20h-35.1zM949.2 262.55h35.1v2.20h-35.1zM949.2 267.00h35.1v2.20h-35.1zM949.2 271.45h35.1v2.20h-35.1zM949.2 275.90h35.1v2.20h-35.1zM949.2 280.35h35.1v2.20h-35.1zM949.2 284.80h35.1v2.20h-35.1zM949.2 289.25h35.1v2.20h-35.1zM949.2 293.70h35.1v2.20h-35.1zM949.2 298.15h35.1v2.20h-35.1zM949.2 302.60h35.1v2.20h-35.1zM949.2 307.05h35.1v2.20h-35.1zM949.2 311.50h35.1v2.20h-35.1zM949.2 315.95h35.1v2.20h-35.1zM949.2 320.40h35.1v2.20h-35.1zM949.2 324.85h35.1v2.20h-35.1zM949.2 329.30h35.1v2.20h-35.1zM949.2 333.75h35.1v2.20h-35.1zM949.2 338.20h35.1v2.20h-35.1zM949.2 342.65h35.1v2.20h-35.1zM949.2 347.10h35.1v2.20h-35.1zM949.2 351.55h35.1v2.20h-35.1zM949.2 356.00h35.1v2.20h-35.1zM949.2 360.45h35.1v2.20h-35.1zM949.2 364.90h35.1v2.20h-35.1zM949.2 369.35h35.1v2.20h-35.1zM949.2 373.80h35.1v2.20h-35.1zM949.2 378.25h35.1v2.20h-35.1zM949.2 382.70h35.1v2.20h-35.1zM949.2 387.15h35.1v2.20h-35.1zM949.2 391.60h35.1v2.20h-35.1zM949.2 396.05h35.1v2.20h-35.1zM949.2 400.50h35.1v2.20h-35.1zM949.2 404.95h35.1v2.20h-35.1zM949.2 409.40h35.1v2.20h-35.1zM949.2 413.85h35.1v2.20h-35.1zM949.2 418.30h35.1v2.20h-35.1zM949.2 422.75h35.1v2.20h-35.1zM949.2 427.20h35.1v2.20h-35.1zM949.2 431.65h35.1v2.20h-35.1zM949.2 436.10h35.1v2.20h-35.1zM949.2 440.55h35.1v2.20h-35.1zM949.2 445.00h35.1v2.20h-35.1zM949.2 449.45h35.1v2.20h-35.1zM949.2 453.90h35.1v2.20h-35.1zM949.2 458.35h35.1v2.20h-35.1zM949.2 462.80h35.1v2.20h-35.1zM949.2 467.25h35.1v2.20h-35.1zM949.2 471.70h35.1v2.20h-35.1zM949.2 476.15h35.1v2.20h-35.1zM949.2 480.60h35.1v2.20h-35.1zM949.2 485.05h35.1v2.20h-35.1zM949.2 489.50h35.1v2.20h-35.1zM949.2 493.95h35.1v2.20h-35.1zM949.2 498.40h35.1v2.20h-35.1zM949.2 502.85h35.1v2.20h-35.1zM949.2 507.30h35.1v2.20h-35.1zM949.2 511.75h35.1v2.20h-35.1zM949.2 516.20h35.1v2.20h-35.1zM949.2 520.65h35.1v2.20h-35.1zM949.2 525.10h35.1v2.20h-35.1zM949.2 529.55h35.1v2.20h-35.1zM949.2 534.00h35.1v2.20h-35.1zM949.2 538.45h35.1v2.20h-35.1zM949.2 542.90h35.1v0.50h-35.1zM949.2 553.90h35.1v2.20h-35.1zM949.2 558.35h35.1v2.20h-35.1zM949.2 562.80h35.1v2.20h-35.1zM949.2 567.25h35.1v2.20h-35.1zM949.2 571.70h35.1v2.20h-35.1zM949.2 576.15h35.1v2.20h-35.1zM949.2 586.20h35.1v2.20h-35.1z" fill="#ff0a84"/>
<path d="M949.2 626.50h35.1v2.20h-35.1zM949.2 630.95h35.1v2.20h-35.1zM949.2 635.40h35.1v2.20h-35.1zM949.2 639.85h35.1v2.20h-35.1zM949.2 644.30h35.1v2.20h-35.1zM949.2 648.75h35.1v2.20h-35.1zM949.2 653.20h35.1v2.20h-35.1zM949.2 657.65h35.1v2.20h-35.1zM949.2 662.10h35.1v2.20h-35.1zM949.2 666.55h35.1v2.20h-35.1zM949.2 671.00h35.1v2.20h-35.1zM949.2 675.45h35.1v2.20h-35.1zM949.2 679.90h35.1v2.20h-35.1zM949.2 684.35h35.1v2.20h-35.1zM949.2 688.80h35.1v2.20h-35.1zM949.2 693.25h35.1v2.20h-35.1zM949.2 697.70h35.1v2.20h-35.1zM949.2 702.15h35.1v2.20h-35.1zM949.2 706.60h35.1v2.20h-35.1zM949.2 711.05h35.1v2.20h-35.1zM949.2 715.50h35.1v2.20h-35.1zM949.2 719.95h35.1v2.20h-35.1zM949.2 724.40h35.1v2.20h-35.1zM949.2 728.85h35.1v2.20h-35.1zM949.2 733.30h35.1v2.20h-35.1zM949.2 737.75h35.1v2.20h-35.1zM949.2 742.20h35.1v2.20h-35.1zM949.2 746.65h35.1v2.20h-35.1zM949.2 751.10h35.1v2.20h-35.1zM949.2 755.55h35.1v2.20h-35.1zM949.2 760.00h35.1v2.20h-35.1zM949.2 764.45h35.1v2.20h-35.1zM949.2 768.90h35.1v2.20h-35.1zM949.2 773.35h35.1v2.20h-35.1zM949.2 777.80h35.1v2.20h-35.1zM949.2 782.25h35.1v2.20h-35.1zM949.2 786.70h35.1v2.20h-35.1zM949.2 791.15h35.1v2.20h-35.1zM949.2 795.60h35.1v2.20h-35.1zM949.2 800.05h35.1v2.20h-35.1zM949.2 804.50h35.1v2.20h-35.1zM949.2 808.95h35.1v2.20h-35.1zM949.2 813.40h35.1v2.20h-35.1zM949.2 817.85h35.1v2.20h-35.1zM949.2 828.00h35.1v2.20h-35.1zM949.2 836.20h35.1v2.20h-35.1zM949.2 840.65h35.1v2.20h-35.1zM949.2 845.10h35.1v2.20h-35.1zM949.2 881.00h35.1v2.20h-35.1zM949.2 885.45h35.1v2.20h-35.1zM949.2 889.90h35.1v2.20h-35.1zM949.2 894.35h35.1v2.20h-35.1zM949.2 898.80h35.1v2.20h-35.1zM949.2 903.25h35.1v2.20h-35.1zM949.2 907.70h35.1v2.20h-35.1zM949.2 912.15h35.1v2.20h-35.1zM949.2 916.60h35.1v2.20h-35.1zM949.2 921.05h35.1v2.20h-35.1zM949.2 925.50h35.1v2.20h-35.1zM949.2 929.95h35.1v2.20h-35.1zM949.2 934.40h35.1v2.20h-35.1zM949.2 938.85h35.1v2.20h-35.1zM949.2 943.30h35.1v2.20h-35.1zM949.2 947.75h35.1v2.20h-35.1zM949.2 952.20h35.1v2.20h-35.1z" fill="#2e62d8"/>
<path d="M949.2 975.80h35.1v2.20h-35.1z" fill="#ff2090"/>
<path d="M985.7 26.70h34.6v2.20h-34.6zM985.7 31.15h34.6v2.20h-34.6zM985.7 35.60h34.6v2.20h-34.6zM985.7 40.05h34.6v2.20h-34.6zM985.7 44.50h34.6v2.20h-34.6zM985.7 48.95h34.6v2.20h-34.6zM985.7 53.40h34.6v2.20h-34.6zM985.7 57.85h34.6v2.20h-34.6zM985.7 62.30h34.6v2.20h-34.6zM985.7 66.75h34.6v2.20h-34.6zM985.7 71.20h34.6v2.20h-34.6zM985.7 75.65h34.6v2.20h-34.6zM985.7 80.10h34.6v2.20h-34.6zM985.7 84.55h34.6v2.20h-34.6zM985.7 89.00h34.6v2.20h-34.6zM985.7 93.45h34.6v2.20h-34.6zM985.7 97.90h34.6v2.20h-34.6zM985.7 120.00h34.6v2.20h-34.6zM985.7 124.45h34.6v2.20h-34.6zM985.7 128.90h34.6v2.20h-34.6zM985.7 133.35h34.6v2.20h-34.6zM985.7 137.80h34.6v2.20h-34.6zM985.7 142.25h34.6v2.20h-34.6zM985.7 146.70h34.6v2.20h-34.6zM985.7 151.15h34.6v2.20h-34.6zM985.7 155.60h34.6v2.20h-34.6zM985.7 160.05h34.6v2.20h-34.6zM985.7 164.50h34.6v2.20h-34.6zM985.7 173.30h34.6v2.20h-34.6zM985.7 177.75h34.6v2.20h-34.6zM985.7 182.20h34.6v2.20h-34.6zM985.7 186.65h34.6v2.20h-34.6zM985.7 191.10h34.6v2.20h-34.6zM985.7 195.55h34.6v2.20h-34.6zM985.7 200.00h34.6v2.20h-34.6zM985.7 204.45h34.6v2.20h-34.6zM985.7 208.90h34.6v2.20h-34.6zM985.7 213.35h34.6v2.20h-34.6zM985.7 217.80h34.6v2.20h-34.6zM985.7 235.60h34.6v2.20h-34.6zM985.7 240.05h34.6v2.20h-34.6zM985.7 244.50h34.6v2.20h-34.6zM985.7 248.95h34.6v2.20h-34.6zM985.7 253.40h34.6v2.20h-34.6zM985.7 257.85h34.6v2.20h-34.6zM985.7 262.30h34.6v2.20h-34.6zM985.7 266.75h34.6v2.20h-34.6zM985.7 271.20h34.6v2.20h-34.6zM985.7 275.65h34.6v2.20h-34.6zM985.7 290.60h34.6v2.20h-34.6zM985.7 295.05h34.6v2.20h-34.6zM985.7 299.50h34.6v2.20h-34.6zM985.7 303.95h34.6v2.20h-34.6zM985.7 308.40h34.6v2.20h-34.6zM985.7 312.85h34.6v2.20h-34.6zM985.7 317.30h34.6v2.20h-34.6zM985.7 321.75h34.6v2.20h-34.6zM985.7 326.20h34.6v2.20h-34.6zM985.7 330.65h34.6v2.20h-34.6zM985.7 335.10h34.6v2.20h-34.6zM985.7 339.55h34.6v2.20h-34.6zM985.7 344.20h34.6v2.20h-34.6zM985.7 410.30h34.6v2.20h-34.6zM985.7 414.75h34.6v2.20h-34.6zM985.7 419.20h34.6v2.20h-34.6zM985.7 428.50h34.6v2.20h-34.6zM985.7 441.90h34.6v2.20h-34.6zM985.7 446.35h34.6v2.20h-34.6zM985.7 450.80h34.6v2.20h-34.6zM985.7 459.40h34.6v2.20h-34.6zM985.7 463.85h34.6v2.20h-34.6zM985.7 468.30h34.6v2.20h-34.6zM985.7 472.75h34.6v2.20h-34.6zM985.7 477.20h34.6v2.20h-34.6zM985.7 481.65h34.6v2.20h-34.6zM985.7 486.10h34.6v2.20h-34.6zM985.7 490.55h34.6v0.65h-34.6zM985.7 496.20h34.6v2.20h-34.6zM985.7 500.65h34.6v2.20h-34.6zM985.7 527.00h34.6v2.20h-34.6zM985.7 531.45h34.6v2.20h-34.6zM985.7 541.30h34.6v2.20h-34.6zM985.7 553.90h34.6v2.20h-34.6zM985.7 558.35h34.6v2.20h-34.6zM985.7 562.80h34.6v2.20h-34.6zM985.7 567.25h34.6v2.20h-34.6zM1131.2 26.70h34.6v2.20h-34.6zM1131.2 31.15h34.6v2.20h-34.6zM1131.2 35.60h34.6v2.20h-34.6zM1131.2 40.05h34.6v2.20h-34.6zM1131.2 44.50h34.6v2.20h-34.6zM1131.2 48.95h34.6v2.20h-34.6zM1131.2 53.40h34.6v2.20h-34.6zM1131.2 57.85h34.6v2.20h-34.6zM1131.2 62.30h34.6v2.20h-34.6zM1131.2 66.75h34.6v2.20h-34.6zM1131.2 71.20h34.6v2.20h-34.6zM1131.2 75.65h34.6v2.20h-34.6zM1131.2 80.10h34.6v2.20h-34.6zM1131.2 84.55h34.6v2.20h-34.6zM1131.2 89.00h34.6v2.20h-34.6zM1131.2 93.45h34.6v2.20h-34.6zM1131.2 97.90h34.6v2.20h-34.6zM1131.2 120.00h34.6v2.20h-34.6zM1131.2 124.45h34.6v2.20h-34.6zM1131.2 128.90h34.6v2.20h-34.6zM1131.2 133.35h34.6v2.20h-34.6zM1131.2 137.80h34.6v2.20h-34.6zM1131.2 142.25h34.6v2.20h-34.6zM1131.2 146.70h34.6v2.20h-34.6zM1131.2 151.15h34.6v2.20h-34.6zM1131.2 155.60h34.6v2.20h-34.6zM1131.2 160.05h34.6v2.20h-34.6zM1131.2 164.50h34.6v2.20h-34.6zM1131.2 173.30h34.6v2.20h-34.6zM1131.2 177.75h34.6v2.20h-34.6zM1131.2 182.20h34.6v2.20h-34.6zM1131.2 186.65h34.6v2.20h-34.6zM1131.2 191.10h34.6v2.20h-34.6zM1131.2 195.55h34.6v2.20h-34.6zM1131.2 200.00h34.6v2.20h-34.6zM1131.2 204.45h34.6v2.20h-34.6zM1131.2 208.90h34.6v2.20h-34.6zM1131.2 213.35h34.6v2.20h-34.6zM1131.2 217.80h34.6v2.20h-34.6zM1131.2 224.00h34.6v2.20h-34.6zM1131.2 228.45h34.6v2.20h-34.6zM1131.2 232.90h34.6v1.60h-34.6zM1131.2 235.60h34.6v2.20h-34.6zM1131.2 240.05h34.6v2.20h-34.6zM1131.2 244.50h34.6v2.20h-34.6zM1131.2 248.95h34.6v2.20h-34.6zM1131.2 253.40h34.6v2.20h-34.6zM1131.2 257.85h34.6v2.20h-34.6zM1131.2 262.30h34.6v2.20h-34.6zM1131.2 266.75h34.6v2.20h-34.6zM1131.2 271.20h34.6v2.20h-34.6zM1131.2 275.65h34.6v2.20h-34.6zM1131.2 290.60h34.6v2.20h-34.6zM1131.2 295.05h34.6v2.20h-34.6zM1131.2 299.50h34.6v2.20h-34.6zM1131.2 303.95h34.6v2.20h-34.6zM1131.2 308.40h34.6v2.20h-34.6zM1131.2 312.85h34.6v2.20h-34.6zM1131.2 317.30h34.6v2.20h-34.6zM1131.2 321.75h34.6v2.20h-34.6zM1131.2 326.20h34.6v2.20h-34.6zM1131.2 330.65h34.6v2.20h-34.6zM1131.2 335.10h34.6v2.20h-34.6zM1131.2 339.55h34.6v2.20h-34.6zM1131.2 344.20h34.6v2.20h-34.6zM1131.2 370.50h34.6v2.20h-34.6zM1131.2 374.95h34.6v2.20h-34.6zM1131.2 379.40h34.6v2.20h-34.6zM1131.2 383.85h34.6v2.20h-34.6zM1131.2 388.30h34.6v2.20h-34.6zM1131.2 392.75h34.6v2.20h-34.6zM1131.2 397.20h34.6v2.20h-34.6zM1131.2 401.65h34.6v2.20h-34.6zM1131.2 406.10h34.6v2.20h-34.6zM1131.2 410.55h34.6v2.20h-34.6zM1131.2 415.00h34.6v2.20h-34.6zM1131.2 419.45h34.6v2.20h-34.6zM1131.2 423.90h34.6v2.20h-34.6zM1131.2 428.35h34.6v2.20h-34.6zM1131.2 432.80h34.6v2.20h-34.6zM1131.2 437.25h34.6v2.20h-34.6zM1131.2 441.70h34.6v2.20h-34.6zM1131.2 446.15h34.6v2.20h-34.6zM1131.2 450.60h34.6v2.20h-34.6zM1131.2 455.05h34.6v2.20h-34.6zM1131.2 459.50h34.6v2.20h-34.6zM1131.2 463.95h34.6v2.20h-34.6zM1131.2 468.40h34.6v2.20h-34.6zM1131.2 472.85h34.6v2.20h-34.6zM1131.2 477.30h34.6v2.20h-34.6zM1131.2 481.75h34.6v2.20h-34.6zM1131.2 486.20h34.6v2.20h-34.6zM1131.2 490.65h34.6v2.20h-34.6zM1131.2 495.10h34.6v2.20h-34.6zM1131.2 499.55h34.6v2.20h-34.6zM1131.2 504.00h34.6v2.20h-34.6zM1131.2 508.45h34.6v2.20h-34.6zM1131.2 512.90h34.6v2.20h-34.6zM1131.2 517.35h34.6v2.20h-34.6zM1131.2 521.80h34.6v2.20h-34.6zM1131.2 526.25h34.6v2.20h-34.6zM1131.2 530.70h34.6v2.20h-34.6zM1131.2 535.15h34.6v2.20h-34.6zM1131.2 539.60h34.6v2.20h-34.6z" fill="#4a7b80"/>
<path d="M985.7 224.00h34.6v2.20h-34.6zM985.7 228.45h34.6v2.20h-34.6zM985.7 232.90h34.6v1.60h-34.6zM985.7 648.20h34.6v2.20h-34.6zM985.7 652.65h34.6v2.20h-34.6zM985.7 667.00h34.6v2.20h-34.6zM985.7 671.45h34.6v2.20h-34.6zM985.7 675.90h34.6v2.20h-34.6zM985.7 680.35h34.6v2.20h-34.6zM985.7 684.80h34.6v2.20h-34.6zM985.7 689.25h34.6v2.20h-34.6zM985.7 693.70h34.6v2.20h-34.6zM985.7 698.15h34.6v2.20h-34.6zM985.7 711.50h34.6v2.20h-34.6zM985.7 715.95h34.6v2.20h-34.6zM985.7 720.40h34.6v2.20h-34.6zM985.7 724.85h34.6v2.20h-34.6zM985.7 760.20h34.6v2.20h-34.6zM985.7 764.65h34.6v2.20h-34.6zM985.7 769.10h34.6v2.20h-34.6zM985.7 787.10h34.6v2.20h-34.6zM985.7 791.55h34.6v2.20h-34.6zM985.7 796.00h34.6v2.20h-34.6zM985.7 800.45h34.6v2.20h-34.6zM985.7 804.90h34.6v2.20h-34.6zM985.7 809.35h34.6v2.20h-34.6zM985.7 836.20h34.6v2.20h-34.6zM985.7 840.65h34.6v2.20h-34.6zM985.7 845.10h34.6v2.20h-34.6zM985.7 947.70h34.6v2.20h-34.6zM1022.0 836.20h34.8v2.20h-34.8zM1022.0 840.65h34.8v2.20h-34.8zM1022.0 845.10h34.8v2.20h-34.8zM1058.4 648.20h34.7v2.20h-34.7zM1058.4 652.65h34.7v2.20h-34.7zM1058.4 667.00h34.7v2.20h-34.7zM1058.4 671.45h34.7v2.20h-34.7zM1058.4 675.90h34.7v2.20h-34.7zM1058.4 680.35h34.7v2.20h-34.7zM1058.4 684.80h34.7v2.20h-34.7zM1058.4 689.25h34.7v2.20h-34.7zM1058.4 693.70h34.7v2.20h-34.7zM1058.4 698.15h34.7v2.20h-34.7zM1058.4 711.50h34.7v2.20h-34.7zM1058.4 715.95h34.7v2.20h-34.7zM1058.4 720.40h34.7v2.20h-34.7zM1058.4 724.85h34.7v2.20h-34.7zM1058.4 734.00h34.7v2.20h-34.7zM1058.4 738.45h34.7v2.20h-34.7zM1058.4 742.90h34.7v2.20h-34.7zM1058.4 760.20h34.7v2.20h-34.7zM1058.4 764.65h34.7v2.20h-34.7zM1058.4 769.10h34.7v2.20h-34.7zM1058.4 787.10h34.7v2.20h-34.7zM1058.4 791.55h34.7v2.20h-34.7zM1058.4 796.00h34.7v2.20h-34.7zM1058.4 800.45h34.7v2.20h-34.7zM1058.4 804.90h34.7v2.20h-34.7zM1058.4 809.35h34.7v2.20h-34.7zM1058.4 836.20h34.7v2.20h-34.7zM1058.4 840.65h34.7v2.20h-34.7zM1058.4 845.10h34.7v2.20h-34.7zM1058.4 881.00h34.7v2.20h-34.7zM1058.4 885.45h34.7v2.20h-34.7zM1058.4 889.90h34.7v2.20h-34.7zM1058.4 908.00h34.7v2.20h-34.7zM1058.4 917.30h34.7v2.20h-34.7zM1058.4 921.75h34.7v2.20h-34.7zM1058.4 926.20h34.7v2.20h-34.7zM1058.4 930.65h34.7v2.20h-34.7zM1058.4 935.10h34.7v2.20h-34.7zM1058.4 939.55h34.7v2.20h-34.7zM1058.4 944.00h34.7v2.20h-34.7zM1058.4 953.10h34.7v2.20h-34.7zM1167.7 224.00h34.6v2.20h-34.6zM1167.7 228.45h34.6v2.20h-34.6zM1167.7 232.90h34.6v1.60h-34.6z" fill="#ffa500"/>
<path d="M985.7 348.00h34.6v2.20h-34.6zM985.7 352.45h34.6v2.20h-34.6zM985.7 356.90h34.6v2.20h-34.6zM985.7 361.35h34.6v2.20h-34.6zM985.7 365.80h34.6v2.20h-34.6zM985.7 734.00h34.6v2.20h-34.6zM985.7 738.45h34.6v2.20h-34.6zM985.7 742.90h34.6v2.20h-34.6zM985.7 881.00h34.6v2.20h-34.6zM985.7 885.45h34.6v2.20h-34.6zM985.7 889.90h34.6v2.20h-34.6zM985.7 908.00h34.6v2.20h-34.6zM985.7 917.30h34.6v2.20h-34.6zM985.7 921.75h34.6v2.20h-34.6zM985.7 926.20h34.6v2.20h-34.6zM985.7 930.65h34.6v2.20h-34.6zM985.7 935.10h34.6v2.20h-34.6zM985.7 939.55h34.6v2.20h-34.6zM985.7 944.00h34.6v2.20h-34.6zM985.7 953.10h34.6v2.20h-34.6zM1022.0 648.20h34.8v2.20h-34.8zM1022.0 652.65h34.8v2.20h-34.8zM1022.0 667.00h34.8v2.20h-34.8zM1022.0 671.45h34.8v2.20h-34.8zM1022.0 675.90h34.8v2.20h-34.8zM1022.0 680.35h34.8v2.20h-34.8zM1022.0 684.80h34.8v2.20h-34.8zM1022.0 689.25h34.8v2.20h-34.8zM1022.0 693.70h34.8v2.20h-34.8zM1022.0 698.15h34.8v2.20h-34.8zM1022.0 711.50h34.8v2.20h-34.8zM1022.0 719.50h34.8v2.20h-34.8zM1022.0 734.00h34.8v2.20h-34.8zM1022.0 738.45h34.8v2.20h-34.8zM1022.0 742.90h34.8v2.20h-34.8zM1022.0 760.20h34.8v2.20h-34.8zM1022.0 764.65h34.8v2.20h-34.8zM1022.0 769.10h34.8v2.20h-34.8zM1022.0 787.10h34.8v2.20h-34.8zM1022.0 791.55h34.8v2.20h-34.8zM1022.0 796.00h34.8v2.20h-34.8zM1022.0 800.45h34.8v2.20h-34.8zM1022.0 804.90h34.8v2.20h-34.8zM1022.0 809.35h34.8v2.20h-34.8zM1022.0 881.00h34.8v2.20h-34.8zM1022.0 885.45h34.8v2.20h-34.8zM1022.0 908.00h34.8v2.20h-34.8zM1022.0 913.30h34.8v2.20h-34.8zM1022.0 917.30h34.8v2.20h-34.8zM1022.0 921.75h34.8v2.20h-34.8zM1022.0 926.20h34.8v2.20h-34.8zM1022.0 930.65h34.8v2.20h-34.8zM1022.0 935.10h34.8v2.20h-34.8zM1022.0 939.55h34.8v2.20h-34.8zM1022.0 944.00h34.8v2.20h-34.8zM1022.0 953.10h34.8v2.20h-34.8zM1167.7 26.70h34.6v2.20h-34.6zM1167.7 31.15h34.6v2.20h-34.6zM1167.7 35.60h34.6v2.20h-34.6zM1167.7 40.05h34.6v2.20h-34.6zM1167.7 44.50h34.6v2.20h-34.6zM1167.7 48.95h34.6v2.20h-34.6zM1167.7 53.40h34.6v2.20h-34.6zM1167.7 57.85h34.6v2.20h-34.6zM1167.7 62.30h34.6v2.20h-34.6zM1167.7 66.75h34.6v2.20h-34.6zM1167.7 71.20h34.6v2.20h-34.6zM1167.7 75.65h34.6v2.20h-34.6zM1167.7 80.10h34.6v2.20h-34.6zM1167.7 84.55h34.6v2.20h-34.6zM1167.7 89.00h34.6v2.20h-34.6zM1167.7 93.45h34.6v2.20h-34.6zM1167.7 97.90h34.6v2.20h-34.6zM1167.7 120.00h34.6v2.20h-34.6zM1167.7 124.45h34.6v2.20h-34.6zM1167.7 128.90h34.6v2.20h-34.6zM1167.7 133.35h34.6v2.20h-34.6zM1167.7 137.80h34.6v2.20h-34.6zM1167.7 142.25h34.6v2.20h-34.6zM1167.7 146.70h34.6v2.20h-34.6zM1167.7 151.15h34.6v2.20h-34.6zM1167.7 155.60h34.6v2.20h-34.6zM1167.7 160.05h34.6v2.20h-34.6zM1167.7 164.50h34.6v2.20h-34.6zM1167.7 173.30h34.6v2.20h-34.6zM1167.7 177.75h34.6v2.20h-34.6zM1167.7 182.20h34.6v2.20h-34.6zM1167.7 186.65h34.6v2.20h-34.6zM1167.7 191.10h34.6v2.20h-34.6zM1167.7 195.55h34.6v2.20h-34.6zM1167.7 200.00h34.6v2.20h-34.6zM1167.7 204.45h34.6v2.20h-34.6zM1167.7 208.90h34.6v2.20h-34.6zM1167.7 213.35h34.6v2.20h-34.6zM1167.7 217.80h34.6v2.20h-34.6zM1167.7 235.60h34.6v2.20h-34.6zM1167.7 240.05h34.6v2.20h-34.6zM1167.7 244.50h34.6v2.20h-34.6zM1167.7 248.95h34.6v2.20h-34.6zM1167.7 253.40h34.6v2.20h-34.6zM1167.7 257.85h34.6v2.20h-34.6zM1167.7 262.30h34.6v2.20h-34.6zM1167.7 266.75h34.6v2.20h-34.6zM1167.7 271.20h34.6v2.20h-34.6zM1167.7 275.65h34.6v2.20h-34.6zM1167.7 290.60h34.6v2.20h-34.6zM1167.7 295.05h34.6v2.20h-34.6zM1167.7 299.50h34.6v2.20h-34.6zM1167.7 303.95h34.6v2.20h-34.6zM1167.7 308.40h34.6v2.20h-34.6zM1167.7 312.85h34.6v2.20h-34.6zM1167.7 317.30h34.6v2.20h-34.6zM1167.7 321.75h34.6v2.20h-34.6zM1167.7 326.20h34.6v2.20h-34.6zM1167.7 330.65h34.6v2.20h-34.6zM1167.7 335.10h34.6v2.20h-34.6zM1167.7 339.55h34.6v2.20h-34.6zM1167.7 348.00h34.6v2.20h-34.6zM1167.7 352.45h34.6v2.20h-34.6zM1167.7 356.90h34.6v2.20h-34.6zM1167.7 361.35h34.6v2.20h-34.6zM1167.7 365.80h34.6v2.20h-34.6zM1167.7 410.30h34.6v2.20h-34.6zM1167.7 414.75h34.6v2.20h-34.6zM1167.7 419.20h34.6v2.20h-34.6zM1167.7 428.50h34.6v2.20h-34.6zM1167.7 441.90h34.6v2.20h-34.6zM1167.7 446.35h34.6v2.20h-34.6zM1167.7 450.80h34.6v2.20h-34.6zM1167.7 459.40h34.6v2.20h-34.6zM1167.7 463.85h34.6v2.20h-34.6zM1167.7 468.30h34.6v2.20h-34.6zM1167.7 472.75h34.6v2.20h-34.6zM1167.7 477.20h34.6v2.20h-34.6zM1167.7 481.65h34.6v2.20h-34.6zM1167.7 486.10h34.6v2.20h-34.6zM1167.7 490.55h34.6v0.65h-34.6zM1167.7 496.20h34.6v2.20h-34.6zM1167.7 500.65h34.6v2.20h-34.6zM1167.7 527.00h34.6v2.20h-34.6zM1167.7 531.45h34.6v2.20h-34.6zM1167.7 541.30h34.6v2.20h-34.6zM1167.7 553.90h34.6v2.20h-34.6zM1167.7 558.35h34.6v2.20h-34.6zM1167.7 562.80h34.6v2.20h-34.6zM1167.7 567.25h34.6v2.20h-34.6zM1167.7 648.20h34.6v2.20h-34.6zM1167.7 652.65h34.6v2.20h-34.6zM1167.7 667.00h34.6v2.20h-34.6zM1167.7 671.45h34.6v2.20h-34.6zM1167.7 675.90h34.6v2.20h-34.6zM1167.7 680.35h34.6v2.20h-34.6zM1167.7 684.80h34.6v2.20h-34.6zM1167.7 689.25h34.6v2.20h-34.6zM1167.7 693.70h34.6v2.20h-34.6zM1167.7 698.15h34.6v2.20h-34.6zM1167.7 711.50h34.6v2.20h-34.6zM1167.7 715.95h34.6v2.20h-34.6zM1167.7 720.40h34.6v2.20h-34.6zM1167.7 724.85h34.6v2.20h-34.6zM1167.7 734.00h34.6v2.20h-34.6zM1167.7 738.45h34.6v2.20h-34.6zM1167.7 742.90h34.6v2.20h-34.6zM1167.7 760.20h34.6v2.20h-34.6zM1167.7 764.65h34.6v2.20h-34.6zM1167.7 769.10h34.6v2.20h-34.6zM1167.7 787.10h34.6v2.20h-34.6zM1167.7 791.55h34.6v2.20h-34.6zM1167.7 796.00h34.6v2.20h-34.6zM1167.7 800.45h34.6v2.20h-34.6zM1167.7 804.90h34.6v2.20h-34.6zM1167.7 809.35h34.6v2.20h-34.6zM1167.7 836.20h34.6v2.20h-34.6zM1167.7 840.65h34.6v2.20h-34.6zM1167.7 845.10h34.6v2.20h-34.6zM1167.7 881.00h34.6v2.20h-34.6zM1167.7 885.45h34.6v2.20h-34.6zM1167.7 903.30h34.6v2.20h-34.6zM1167.7 908.00h34.6v2.20h-34.6zM1167.7 913.30h34.6v2.20h-34.6zM1167.7 917.30h34.6v2.20h-34.6zM1167.7 921.75h34.6v2.20h-34.6zM1167.7 926.20h34.6v2.20h-34.6zM1167.7 930.65h34.6v2.20h-34.6zM1167.7 935.10h34.6v2.20h-34.6zM1167.7 939.55h34.6v2.20h-34.6zM1167.7 944.00h34.6v2.20h-34.6zM1167.7 947.70h34.6v2.20h-34.6zM1167.7 953.10h34.6v2.20h-34.6z" fill="#a2f020"/>
<path d="M985.7 975.80h34.6v2.20h-34.6zM1022.0 975.80h34.8v2.20h-34.8zM1131.2 975.80h34.6v2.20h-34.6zM1167.7 975.80h34.6v2.20h-34.6z" fill="#527c80"/>
<path d="M1022.0 26.70h34.8v2.20h-34.8zM1022.0 31.15h34.8v2.20h-34.8zM1022.0 35.60h34.8v2.20h-34.8zM1022.0 40.05h34.8v2.20h-34.8zM1022.0 44.50h34.8v2.20h-34.8zM1022.0 48.95h34.8v2.20h-34.8zM1022.0 53.40h34.8v2.20h-34.8zM1022.0 57.85h34.8v2.20h-34.8zM1022.0 62.30h34.8v2.20h-34.8zM1022.0 66.75h34.8v2.20h-34.8zM1022.0 71.20h34.8v2.20h-34.8zM1022.0 75.65h34.8v2.20h-34.8zM1022.0 80.10h34.8v2.20h-34.8zM1022.0 84.55h34.8v2.20h-34.8zM1022.0 89.00h34.8v2.20h-34.8zM1022.0 93.45h34.8v2.20h-34.8zM1022.0 97.90h34.8v2.20h-34.8zM1022.0 120.00h34.8v2.20h-34.8zM1022.0 124.45h34.8v2.20h-34.8zM1022.0 128.90h34.8v2.20h-34.8zM1022.0 133.35h34.8v2.20h-34.8zM1022.0 137.80h34.8v2.20h-34.8zM1022.0 142.25h34.8v2.20h-34.8zM1022.0 146.70h34.8v2.20h-34.8zM1022.0 151.15h34.8v2.20h-34.8zM1022.0 155.60h34.8v2.20h-34.8zM1022.0 160.05h34.8v2.20h-34.8zM1022.0 164.50h34.8v2.20h-34.8zM1022.0 173.30h34.8v2.20h-34.8zM1022.0 177.75h34.8v2.20h-34.8zM1022.0 182.20h34.8v2.20h-34.8zM1022.0 186.65h34.8v2.20h-34.8zM1022.0 191.10h34.8v2.20h-34.8zM1022.0 195.55h34.8v2.20h-34.8zM1022.0 200.00h34.8v2.20h-34.8zM1022.0 204.45h34.8v2.20h-34.8zM1022.0 208.90h34.8v2.20h-34.8zM1022.0 213.35h34.8v2.20h-34.8zM1022.0 217.80h34.8v2.20h-34.8zM1022.0 235.60h34.8v2.20h-34.8zM1022.0 240.05h34.8v2.20h-34.8zM1022.0 244.50h34.8v2.20h-34.8zM1022.0 248.95h34.8v2.20h-34.8zM1022.0 253.40h34.8v2.20h-34.8zM1022.0 257.85h34.8v2.20h-34.8zM1022.0 262.30h34.8v2.20h-34.8zM1022.0 266.75h34.8v2.20h-34.8zM1022.0 271.20h34.8v2.20h-34.8zM1022.0 275.65h34.8v2.20h-34.8zM1022.0 290.60h34.8v2.20h-34.8zM1022.0 295.05h34.8v2.20h-34.8zM1022.0 299.50h34.8v2.20h-34.8zM1022.0 303.95h34.8v2.20h-34.8zM1022.0 308.40h34.8v2.20h-34.8zM1022.0 312.85h34.8v2.20h-34.8zM1022.0 317.30h34.8v2.20h-34.8zM1022.0 321.75h34.8v2.20h-34.8zM1022.0 326.20h34.8v2.20h-34.8zM1022.0 330.65h34.8v2.20h-34.8zM1022.0 335.10h34.8v2.20h-34.8zM1022.0 339.55h34.8v2.20h-34.8zM1022.0 344.20h34.8v2.20h-34.8zM1022.0 348.00h34.8v2.20h-34.8zM1022.0 352.45h34.8v2.20h-34.8zM1022.0 356.90h34.8v2.20h-34.8zM1022.0 361.35h34.8v2.20h-34.8zM1022.0 365.80h34.8v2.20h-34.8zM1022.0 410.30h34.8v2.20h-34.8zM1022.0 414.75h34.8v2.20h-34.8zM1022.0 419.20h34.8v2.20h-34.8zM1022.0 428.50h34.8v2.20h-34.8zM1022.0 441.90h34.8v2.20h-34.8zM1022.0 446.35h34.8v2.20h-34.8zM1022.0 450.80h34.8v2.20h-34.8zM1022.0 459.40h34.8v2.20h-34.8zM1022.0 463.85h34.8v2.20h-34.8zM1022.0 468.30h34.8v2.20h-34.8zM1022.0 472.75h34.8v2.20h-34.8zM1022.0 477.20h34.8v2.20h-34.8zM1022.0 481.65h34.8v2.20h-34.8zM1022.0 486.10h34.8v2.20h-34.8zM1022.0 490.55h34.8v0.65h-34.8zM1022.0 496.20h34.8v2.20h-34.8zM1022.0 500.65h34.8v2.20h-34.8zM1022.0 527.00h34.8v2.20h-34.8zM1022.0 531.45h34.8v2.20h-34.8zM1022.0 541.30h34.8v2.20h-34.8zM1022.0 553.90h34.8v2.20h-34.8zM1022.0 558.35h34.8v2.20h-34.8zM1022.0 562.80h34.8v2.20h-34.8zM1022.0 567.25h34.8v2.20h-34.8zM1095.0 648.20h34.6v2.20h-34.6zM1095.0 652.65h34.6v2.20h-34.6zM1095.0 667.00h34.6v2.20h-34.6zM1095.0 671.45h34.6v2.20h-34.6zM1095.0 675.90h34.6v2.20h-34.6zM1095.0 680.35h34.6v2.20h-34.6zM1095.0 684.80h34.6v2.20h-34.6zM1095.0 689.25h34.6v2.20h-34.6zM1095.0 693.70h34.6v2.20h-34.6zM1095.0 698.15h34.6v2.20h-34.6zM1095.0 711.50h34.6v2.20h-34.6zM1095.0 715.95h34.6v2.20h-34.6zM1095.0 720.40h34.6v2.20h-34.6zM1095.0 724.85h34.6v2.20h-34.6zM1095.0 734.00h34.6v2.20h-34.6zM1095.0 738.45h34.6v2.20h-34.6zM1095.0 742.90h34.6v2.20h-34.6zM1095.0 760.20h34.6v2.20h-34.6zM1095.0 764.65h34.6v2.20h-34.6zM1095.0 769.10h34.6v2.20h-34.6zM1095.0 787.10h34.6v2.20h-34.6zM1095.0 791.55h34.6v2.20h-34.6zM1095.0 796.00h34.6v2.20h-34.6zM1095.0 800.45h34.6v2.20h-34.6zM1095.0 804.90h34.6v2.20h-34.6zM1095.0 809.35h34.6v2.20h-34.6zM1095.0 836.20h34.6v2.20h-34.6zM1095.0 840.65h34.6v2.20h-34.6zM1095.0 845.10h34.6v2.20h-34.6zM1095.0 881.00h34.6v2.20h-34.6zM1095.0 885.45h34.6v2.20h-34.6zM1095.0 903.30h34.6v2.20h-34.6zM1095.0 913.30h34.6v2.20h-34.6zM1095.0 917.30h34.6v2.20h-34.6zM1095.0 921.75h34.6v2.20h-34.6zM1095.0 926.20h34.6v2.20h-34.6zM1095.0 930.65h34.6v2.20h-34.6zM1095.0 935.10h34.6v2.20h-34.6zM1095.0 939.55h34.6v2.20h-34.6zM1095.0 944.00h34.6v2.20h-34.6zM1095.0 953.10h34.6v2.20h-34.6zM1131.2 348.00h34.6v2.20h-34.6zM1131.2 352.45h34.6v2.20h-34.6zM1131.2 356.90h34.6v2.20h-34.6zM1131.2 361.35h34.6v2.20h-34.6zM1131.2 365.80h34.6v2.20h-34.6zM1131.2 553.90h34.6v2.20h-34.6zM1131.2 558.35h34.6v2.20h-34.6zM1131.2 562.80h34.6v2.20h-34.6zM1131.2 567.25h34.6v2.20h-34.6zM1131.2 570.50h34.6v2.20h-34.6zM1131.2 574.95h34.6v1.05h-34.6zM1131.2 586.20h34.6v2.20h-34.6zM1131.2 648.20h34.6v2.20h-34.6zM1131.2 652.65h34.6v2.20h-34.6zM1131.2 667.00h34.6v2.20h-34.6zM1131.2 671.45h34.6v2.20h-34.6zM1131.2 675.90h34.6v2.20h-34.6zM1131.2 680.35h34.6v2.20h-34.6zM1131.2 684.80h34.6v2.20h-34.6zM1131.2 689.25h34.6v2.20h-34.6zM1131.2 693.70h34.6v2.20h-34.6zM1131.2 698.15h34.6v2.20h-34.6zM1131.2 711.50h34.6v2.20h-34.6zM1131.2 715.95h34.6v2.20h-34.6zM1131.2 720.40h34.6v2.20h-34.6zM1131.2 724.85h34.6v2.20h-34.6zM1131.2 734.00h34.6v2.20h-34.6zM1131.2 738.45h34.6v2.20h-34.6zM1131.2 742.90h34.6v2.20h-34.6zM1131.2 760.20h34.6v2.20h-34.6zM1131.2 764.65h34.6v2.20h-34.6zM1131.2 769.10h34.6v2.20h-34.6zM1131.2 787.10h34.6v2.20h-34.6zM1131.2 791.55h34.6v2.20h-34.6zM1131.2 796.00h34.6v2.20h-34.6zM1131.2 800.45h34.6v2.20h-34.6zM1131.2 804.90h34.6v2.20h-34.6zM1131.2 809.35h34.6v2.20h-34.6zM1131.2 836.20h34.6v2.20h-34.6zM1131.2 840.65h34.6v2.20h-34.6zM1131.2 845.10h34.6v2.20h-34.6zM1131.2 881.00h34.6v2.20h-34.6zM1131.2 885.45h34.6v2.20h-34.6zM1131.2 889.90h34.6v2.20h-34.6zM1131.2 903.30h34.6v2.20h-34.6zM1131.2 908.00h34.6v2.20h-34.6zM1131.2 913.30h34.6v2.20h-34.6zM1131.2 917.30h34.6v2.20h-34.6zM1131.2 921.75h34.6v2.20h-34.6zM1131.2 926.20h34.6v2.20h-34.6zM1131.2 930.65h34.6v2.20h-34.6zM1131.2 935.10h34.6v2.20h-34.6zM1131.2 939.55h34.6v2.20h-34.6zM1131.2 944.00h34.6v2.20h-34.6zM1131.2 947.70h34.6v2.20h-34.6zM1131.2 953.10h34.6v2.20h-34.6z" fill="#ee80ee"/>
<path d="M1022.0 224.00h34.8v2.20h-34.8zM1022.0 228.45h34.8v2.20h-34.8zM1022.0 232.90h34.8v1.60h-34.8zM1058.4 224.00h34.7v2.20h-34.7zM1058.4 228.45h34.7v2.20h-34.7zM1058.4 232.90h34.7v1.60h-34.7z" fill="#8b7d6b"/>
<path d="M1058.4 26.70h34.7v2.20h-34.7zM1058.4 31.15h34.7v2.20h-34.7zM1058.4 35.60h34.7v2.20h-34.7zM1058.4 40.05h34.7v2.20h-34.7zM1058.4 44.50h34.7v2.20h-34.7zM1058.4 48.95h34.7v2.20h-34.7zM1058.4 53.40h34.7v2.20h-34.7zM1058.4 57.85h34.7v2.20h-34.7zM1058.4 62.30h34.7v2.20h-34.7zM1058.4 66.75h34.7v2.20h-34.7zM1058.4 71.20h34.7v2.20h-34.7zM1058.4 75.65h34.7v2.20h-34.7zM1058.4 80.10h34.7v2.20h-34.7zM1058.4 84.55h34.7v2.20h-34.7zM1058.4 89.00h34.7v2.20h-34.7zM1058.4 93.45h34.7v2.20h-34.7zM1058.4 97.90h34.7v2.20h-34.7zM1058.4 120.00h34.7v2.20h-34.7zM1058.4 124.45h34.7v2.20h-34.7zM1058.4 128.90h34.7v2.20h-34.7zM1058.4 133.35h34.7v2.20h-34.7zM1058.4 137.80h34.7v2.20h-34.7zM1058.4 142.25h34.7v2.20h-34.7zM1058.4 146.70h34.7v2.20h-34.7zM1058.4 151.15h34.7v2.20h-34.7zM1058.4 155.60h34.7v2.20h-34.7zM1058.4 160.05h34.7v2.20h-34.7zM1058.4 164.50h34.7v2.20h-34.7zM1058.4 173.30h34.7v2.20h-34.7zM1058.4 177.75h34.7v2.20h-34.7zM1058.4 182.20h34.7v2.20h-34.7zM1058.4 186.65h34.7v2.20h-34.7zM1058.4 191.10h34.7v2.20h-34.7zM1058.4 195.55h34.7v2.20h-34.7zM1058.4 200.00h34.7v2.20h-34.7zM1058.4 204.45h34.7v2.20h-34.7zM1058.4 208.90h34.7v2.20h-34.7zM1058.4 213.35h34.7v2.20h-34.7zM1058.4 217.80h34.7v2.20h-34.7zM1058.4 235.60h34.7v2.20h-34.7zM1058.4 240.05h34.7v2.20h-34.7zM1058.4 244.50h34.7v2.20h-34.7zM1058.4 248.95h34.7v2.20h-34.7zM1058.4 253.40h34.7v2.20h-34.7zM1058.4 257.85h34.7v2.20h-34.7zM1058.4 262.30h34.7v2.20h-34.7zM1058.4 266.75h34.7v2.20h-34.7zM1058.4 271.20h34.7v2.20h-34.7zM1058.4 275.65h34.7v2.20h-34.7zM1058.4 290.60h34.7v2.20h-34.7zM1058.4 295.05h34.7v2.20h-34.7zM1058.4 299.50h34.7v2.20h-34.7zM1058.4 303.95h34.7v2.20h-34.7zM1058.4 308.40h34.7v2.20h-34.7zM1058.4 312.85h34.7v2.20h-34.7zM1058.4 317.30h34.7v2.20h-34.7zM1058.4 321.75h34.7v2.20h-34.7zM1058.4 326.20h34.7v2.20h-34.7zM1058.4 330.65h34.7v2.20h-34.7zM1058.4 335.10h34.7v2.20h-34.7zM1058.4 339.55h34.7v2.20h-34.7zM1058.4 344.20h34.7v2.20h-34.7zM1058.4 348.00h34.7v2.20h-34.7zM1058.4 352.45h34.7v2.20h-34.7zM1058.4 356.90h34.7v2.20h-34.7zM1058.4 361.35h34.7v2.20h-34.7zM1058.4 365.80h34.7v2.20h-34.7zM1058.4 410.30h34.7v2.20h-34.7zM1058.4 414.75h34.7v2.20h-34.7zM1058.4 419.20h34.7v2.20h-34.7zM1058.4 428.50h34.7v2.20h-34.7zM1058.4 441.90h34.7v2.20h-34.7zM1058.4 446.35h34.7v2.20h-34.7zM1058.4 450.80h34.7v2.20h-34.7zM1058.4 459.40h34.7v2.20h-34.7zM1058.4 463.85h34.7v2.20h-34.7zM1058.4 468.30h34.7v2.20h-34.7zM1058.4 472.75h34.7v2.20h-34.7zM1058.4 477.20h34.7v2.20h-34.7zM1058.4 481.65h34.7v2.20h-34.7zM1058.4 486.10h34.7v2.20h-34.7zM1058.4 490.55h34.7v0.65h-34.7zM1058.4 496.20h34.7v2.20h-34.7zM1058.4 500.65h34.7v2.20h-34.7zM1058.4 527.00h34.7v2.20h-34.7zM1058.4 531.45h34.7v2.20h-34.7zM1058.4 541.30h34.7v2.20h-34.7zM1058.4 553.90h34.7v2.20h-34.7zM1058.4 558.35h34.7v2.20h-34.7zM1058.4 562.80h34.7v2.20h-34.7zM1058.4 567.25h34.7v2.20h-34.7zM1058.4 947.70h34.7v2.20h-34.7zM1058.4 975.80h34.7v2.20h-34.7z" fill="#00e6ee"/>
<path d="M1095.0 26.70h34.6v2.20h-34.6zM1095.0 31.15h34.6v2.20h-34.6zM1095.0 35.60h34.6v2.20h-34.6zM1095.0 40.05h34.6v2.20h-34.6zM1095.0 44.50h34.6v2.20h-34.6zM1095.0 48.95h34.6v2.20h-34.6zM1095.0 53.40h34.6v2.20h-34.6zM1095.0 57.85h34.6v2.20h-34.6zM1095.0 62.30h34.6v2.20h-34.6zM1095.0 66.75h34.6v2.20h-34.6zM1095.0 71.20h34.6v2.20h-34.6zM1095.0 75.65h34.6v2.20h-34.6zM1095.0 80.10h34.6v2.20h-34.6zM1095.0 84.55h34.6v2.20h-34.6zM1095.0 89.00h34.6v2.20h-34.6zM1095.0 93.45h34.6v2.20h-34.6zM1095.0 97.90h34.6v2.20h-34.6zM1095.0 120.00h34.6v2.20h-34.6zM1095.0 124.45h34.6v2.20h-34.6zM1095.0 128.90h34.6v2.20h-34.6zM1095.0 133.35h34.6v2.20h-34.6zM1095.0 137.80h34.6v2.20h-34.6zM1095.0 142.25h34.6v2.20h-34.6zM1095.0 146.70h34.6v2.20h-34.6zM1095.0 151.15h34.6v2.20h-34.6zM1095.0 155.60h34.6v2.20h-34.6zM1095.0 160.05h34.6v2.20h-34.6zM1095.0 164.50h34.6v2.20h-34.6zM1095.0 173.30h34.6v2.20h-34.6zM1095.0 177.75h34.6v2.20h-34.6zM1095.0 182.20h34.6v2.20h-34.6zM1095.0 186.65h34.6v2.20h-34.6zM1095.0 191.10h34.6v2.20h-34.6zM1095.0 195.55h34.6v2.20h-34.6zM1095.0 200.00h34.6v2.20h-34.6zM1095.0 204.45h34.6v2.20h-34.6zM1095.0 208.90h34.6v2.20h-34.6zM1095.0 213.35h34.6v2.20h-34.6zM1095.0 217.80h34.6v2.20h-34.6zM1095.0 224.00h34.6v2.20h-34.6zM1095.0 228.45h34.6v2.20h-34.6zM1095.0 232.90h34.6v1.60h-34.6zM1095.0 235.60h34.6v2.20h-34.6zM1095.0 240.05h34.6v2.20h-34.6zM1095.0 244.50h34.6v2.20h-34.6zM1095.0 248.95h34.6v2.20h-34.6zM1095.0 253.40h34.6v2.20h-34.6zM1095.0 257.85h34.6v2.20h-34.6zM1095.0 262.30h34.6v2.20h-34.6zM1095.0 266.75h34.6v2.20h-34.6zM1095.0 271.20h34.6v2.20h-34.6zM1095.0 275.65h34.6v2.20h-34.6zM1095.0 290.60h34.6v2.20h-34.6zM1095.0 295.05h34.6v2.20h-34.6zM1095.0 299.50h34.6v2.20h-34.6zM1095.0 303.95h34.6v2.20h-34.6zM1095.0 308.40h34.6v2.20h-34.6zM1095.0 312.85h34.6v2.20h-34.6zM1095.0 317.30h34.6v2.20h-34.6zM1095.0 321.75h34.6v2.20h-34.6zM1095.0 326.20h34.6v2.20h-34.6zM1095.0 330.65h34.6v2.20h-34.6zM1095.0 335.10h34.6v2.20h-34.6zM1095.0 339.55h34.6v2.20h-34.6zM1095.0 348.00h34.6v2.20h-34.6zM1095.0 352.45h34.6v2.20h-34.6zM1095.0 356.90h34.6v2.20h-34.6zM1095.0 361.35h34.6v2.20h-34.6zM1095.0 365.80h34.6v2.20h-34.6zM1095.0 553.90h34.6v2.20h-34.6zM1095.0 558.35h34.6v2.20h-34.6zM1095.0 562.80h34.6v2.20h-34.6zM1095.0 567.25h34.6v2.20h-34.6z" fill="#ee7700"/>
<path d="M1095.0 344.20h34.6v2.20h-34.6zM1095.0 410.30h34.6v2.20h-34.6zM1095.0 414.75h34.6v2.20h-34.6zM1095.0 419.20h34.6v2.20h-34.6zM1095.0 428.50h34.6v2.20h-34.6zM1095.0 441.90h34.6v2.20h-34.6zM1095.0 446.35h34.6v2.20h-34.6zM1095.0 450.80h34.6v2.20h-34.6zM1095.0 459.40h34.6v2.20h-34.6zM1095.0 463.85h34.6v2.20h-34.6zM1095.0 468.30h34.6v2.20h-34.6zM1095.0 472.75h34.6v2.20h-34.6zM1095.0 477.20h34.6v2.20h-34.6zM1095.0 481.65h34.6v2.20h-34.6zM1095.0 486.10h34.6v2.20h-34.6zM1095.0 490.55h34.6v0.65h-34.6zM1095.0 496.20h34.6v2.20h-34.6zM1095.0 500.65h34.6v2.20h-34.6zM1095.0 527.00h34.6v2.20h-34.6zM1095.0 531.45h34.6v2.20h-34.6zM1095.0 541.30h34.6v2.20h-34.6zM1095.0 975.80h34.6v2.20h-34.6z" fill="#7fffd4"/>
<path d="M1095.0 947.70h34.6v2.20h-34.6z" fill="#e06000"/>
<path d="M1167.7 344.20h34.6v2.20h-34.6z" fill="#4f6f9f"/>
<rect x="985.7" y="110.2" width="34.6" height="4.2" fill="#4a7b80"/>
<rect x="1022.0" y="110.2" width="34.8" height="4.2" fill="#ee80ee"/>
<rect x="1058.4" y="110.2" width="34.7" height="4.2" fill="#00e6ee"/>
<rect x="1095.0" y="110.2" width="34.6" height="4.2" fill="#ee7700"/>
<rect x="1131.2" y="110.2" width="34.6" height="4.2" fill="#4a7b80"/>
<rect x="1167.7" y="110.2" width="34.6" height="4.2" fill="#a2f020"/>
<rect x="1231.8" y="25.9" width="36.5" height="74.8" fill="#ff0000"/>
<rect x="1231.8" y="110.0" width="36.5" height="4.3" fill="#ff0000"/>
<rect x="1231.8" y="118.6" width="36.5" height="4.4" fill="#ff0000"/>
<rect x="1231.8" y="124.8" width="36.5" height="19.2" fill="#ff0000"/>
<rect x="1231.8" y="145.2" width="36.5" height="17.5" fill="#ff0000"/>
<rect x="1231.8" y="163.9" width="36.5" height="4.7" fill="#ff0000"/>
<rect x="1231.8" y="173.3" width="36.5" height="12.7" fill="#ff0000"/>
<rect x="1231.8" y="187.5" width="36.5" height="20.0" fill="#ff0000"/>
<rect x="1231.8" y="209.5" width="36.5" height="12.8" fill="#ff0000"/>
<rect x="1231.8" y="222.3" width="36.5" height="7.9" fill="#ff8080"/>
<rect x="1231.8" y="231.0" width="36.5" height="1.6" fill="#ff9a9a"/>
<rect x="1231.8" y="233.6" width="36.5" height="1.4" fill="#ff9a9a"/>
<rect x="1231.8" y="235.6" width="36.5" height="17.6" fill="#ff0000"/>
<rect x="1231.8" y="254.8" width="36.5" height="19.9" fill="#ff0000"/>
<rect x="1231.8" y="276.4" width="36.5" height="4.4" fill="#ff0000"/>
<rect x="1231.8" y="289.4" width="36.5" height="8.2" fill="#ff0000"/>
<rect x="1231.8" y="299.4" width="36.5" height="20.5" fill="#ff0000"/>
<rect x="1231.8" y="321.5" width="36.5" height="20.5" fill="#ff0000"/>
<rect x="1231.8" y="342.6" width="36.5" height="1.4" fill="#ffb0b0"/>
<rect x="1231.8" y="345.0" width="36.5" height="1.5" fill="#ffb0b0"/>
<rect x="1231.8" y="348.0" width="36.5" height="12.8" fill="#800000"/>
<rect x="1231.8" y="361.6" width="36.5" height="1.4" fill="#e0a0a0"/>
<rect x="1231.8" y="363.8" width="36.5" height="1.2" fill="#e0a0a0"/>
<rect x="1231.8" y="365.5" width="36.5" height="4.5" fill="#800000"/>
<rect x="1231.8" y="410.3" width="36.5" height="13.3" fill="#c00000"/>
<rect x="1231.8" y="427.9" width="36.5" height="4.1" fill="#c00000"/>
<rect x="1231.8" y="441.9" width="36.5" height="12.9" fill="#c00000"/>
<rect x="1231.8" y="459.4" width="36.5" height="17.1" fill="#c00000"/>
<rect x="1231.8" y="478.2" width="36.5" height="12.4" fill="#c00000"/>
<rect x="1231.8" y="494.5" width="36.5" height="3.7" fill="#c00000"/>
<rect x="1231.8" y="498.2" width="36.5" height="1.8" fill="#e08080"/>
<rect x="1231.8" y="500.0" width="36.5" height="4.4" fill="#c00000"/>
<rect x="1231.8" y="527.0" width="36.5" height="8.2" fill="#c00000"/>
<rect x="1231.8" y="539.9" width="36.5" height="4.0" fill="#c00000"/>
<rect x="1231.8" y="553.9" width="36.5" height="8.2" fill="#a81010"/>
<rect x="1231.8" y="568.0" width="36.5" height="3.5" fill="#a81010"/>
<rect x="1231.8" y="647.5" width="36.5" height="3.5" fill="#0000ff"/>
<rect x="1231.8" y="653.4" width="36.5" height="3.5" fill="#0000ff"/>
<rect x="1231.8" y="665.5" width="36.5" height="4.2" fill="#0000ff"/>
<rect x="1231.8" y="674.9" width="36.5" height="20.6" fill="#0000ff"/>
<rect x="1231.8" y="698.2" width="36.5" height="3.5" fill="#0000ff"/>
<rect x="1231.8" y="710.6" width="36.5" height="3.7" fill="#0000ff"/>
<rect x="1231.8" y="720.0" width="36.5" height="4.2" fill="#0000ff"/>
<rect x="1231.8" y="732.8" width="36.5" height="8.0" fill="#0000ff"/>
<rect x="1231.8" y="742.9" width="36.5" height="3.5" fill="#0000ff"/>
<rect x="1231.8" y="759.3" width="36.5" height="4.3" fill="#0000ff"/>
<rect x="1231.8" y="763.6" width="36.5" height="1.8" fill="#8080ff"/>
<rect x="1231.8" y="765.4" width="36.5" height="7.6" fill="#0000ff"/>
<rect x="1231.8" y="787.1" width="36.5" height="20.9" fill="#0000ff"/>
<rect x="1231.8" y="808.0" width="36.5" height="1.8" fill="#8080ff"/>
<rect x="1231.8" y="809.8" width="36.5" height="3.7" fill="#0000ff"/>
<rect x="1231.8" y="836.2" width="36.5" height="12.4" fill="#000080"/>
<rect x="1231.8" y="881.0" width="36.5" height="8.2" fill="#0000ff"/>
<rect x="1231.8" y="916.2" width="36.5" height="3.5" fill="#0000ff"/>
<rect x="1231.8" y="921.3" width="36.5" height="20.7" fill="#0000ff"/>
<rect x="1231.8" y="944.2" width="36.5" height="3.5" fill="#0000ff"/>
<rect x="1231.8" y="947.7" width="36.5" height="4.7" fill="#000060"/>
<rect x="1231.8" y="952.4" width="36.5" height="3.6" fill="#0000ff"/>
<rect x="1231.8" y="974.6" width="36.5" height="4.3" fill="#007000"/>
<rect x="1231.8" y="33.7" width="36.5" height="1.6" fill="#ffdede"/>
<rect x="1231.8" y="55.5" width="36.5" height="1.6" fill="#ffdede"/>
<rect x="1231.8" y="78.2" width="36.5" height="1.6" fill="#ffdede"/>
<path d="M886.4 25.50h14.7v2.0h-14.7zM886.4 29.80h14.7v2.0h-14.7zM886.4 35.20h14.7v2.0h-14.7zM886.4 39.45h14.7v2.0h-14.7zM886.4 43.70h14.7v2.0h-14.7zM886.4 47.95h14.7v2.0h-14.7zM886.4 52.20h14.7v2.0h-14.7zM886.4 57.55h14.7v2.0h-14.7zM886.4 61.80h14.7v2.0h-14.7zM886.4 66.05h14.7v2.0h-14.7zM886.4 70.30h14.7v2.0h-14.7zM886.4 74.55h14.7v2.0h-14.7zM886.4 79.90h14.7v2.0h-14.7zM886.4 84.15h14.7v2.0h-14.7zM886.4 88.40h14.7v2.0h-14.7zM886.4 92.65h14.7v2.0h-14.7zM886.4 96.90h14.7v2.0h-14.7zM886.4 102.25h14.7v2.0h-14.7zM886.4 106.50h14.7v2.0h-14.7zM886.4 110.75h14.7v2.0h-14.7zM886.4 115.00h14.7v2.0h-14.7zM886.4 119.25h14.7v2.0h-14.7zM886.4 124.60h14.7v2.0h-14.7zM886.4 128.85h14.7v2.0h-14.7zM886.4 133.10h14.7v2.0h-14.7zM886.4 137.35h14.7v2.0h-14.7zM886.4 141.60h14.7v2.0h-14.7zM886.4 146.95h14.7v2.0h-14.7zM886.4 151.20h14.7v2.0h-14.7zM886.4 155.45h14.7v2.0h-14.7zM886.4 159.70h14.7v2.0h-14.7zM886.4 165.30h14.7v2.0h-14.7zM886.4 169.50h14.7v2.0h-14.7zM886.4 200.10h14.7v2.0h-14.7zM886.4 204.40h14.7v2.0h-14.7zM886.4 209.80h14.7v2.0h-14.7zM886.4 214.05h14.7v2.0h-14.7zM886.4 218.30h14.7v2.0h-14.7zM886.4 222.55h14.7v2.0h-14.7zM886.4 226.80h14.7v2.0h-14.7zM886.4 232.15h14.7v2.0h-14.7zM886.4 236.40h14.7v2.0h-14.7zM886.4 240.65h14.7v2.0h-14.7zM886.4 244.90h14.7v2.0h-14.7zM886.4 249.15h14.7v2.0h-14.7zM886.4 254.50h14.7v2.0h-14.7zM886.4 258.75h14.7v2.0h-14.7zM886.4 263.00h14.7v2.0h-14.7zM886.4 267.25h14.7v2.0h-14.7zM886.4 271.50h14.7v2.0h-14.7zM886.4 276.85h14.7v2.0h-14.7zM886.4 281.10h14.7v2.0h-14.7zM886.4 285.35h14.7v2.0h-14.7zM886.4 289.60h14.7v2.0h-14.7zM886.4 293.85h14.7v2.0h-14.7zM886.4 299.40h14.7v2.0h-14.7zM886.4 303.60h14.7v2.0h-14.7zM886.4 312.00h14.7v2.0h-14.7zM886.4 460.00h14.7v2.0h-14.7zM886.4 464.80h14.7v2.0h-14.7zM886.4 468.70h14.7v2.0h-14.7zM886.4 473.20h14.7v2.0h-14.7zM886.4 527.70h14.7v2.0h-14.7zM886.4 710.70h14.7v2.0h-14.7zM886.4 836.70h14.7v2.0h-14.7zM886.4 840.90h14.7v2.0h-14.7zM886.4 845.10h14.7v2.0h-14.7zM886.4 881.40h14.7v2.0h-14.7zM886.4 889.70h14.7v2.0h-14.7zM886.4 894.00h14.7v2.0h-14.7zM886.4 899.40h14.7v2.0h-14.7zM886.4 903.70h14.7v2.0h-14.7zM886.4 907.90h14.7v2.0h-14.7zM886.4 912.10h14.7v2.0h-14.7z" fill="#b3b3b3"/>
<text transform="translate(1.2 48.5) scale(1 1.065)" font-size="46.5" font-weight="bold" fill="#000">A</text>
<text transform="translate(11.6 1078.1) scale(1 1.065)" font-size="45.8" font-weight="bold" fill="#000">B</text>
<rect x="180.5" y="113.7" width="40" height="5.2" fill="#000000"/>
<text x="233.5" y="128.0" font-size="26" font-weight="bold" fill="#000">Reference viruses</text>
<rect x="180.5" y="145.1" width="40" height="5.2" fill="#f9a2c6"/>
<text x="233.5" y="158.8" font-size="26" font-weight="bold" fill="#000">2.3.2.1c</text>
<rect x="180.5" y="177.9" width="40" height="5.2" fill="#7fa8f5"/>
<text x="233.5" y="189.8" font-size="26" font-weight="bold" fill="#000">2.3.4.4</text>
<rect x="180.5" y="208.6" width="40" height="5.2" fill="#34cf9a"/>
<text x="233.5" y="221.3" font-size="26" font-weight="bold" fill="#000">1.1</text>
<path d="M192.0 280.8H211.0L201.5 266.2Z" fill="#000"/>
<text x="235" y="279.2" font-size="25.5" font-weight="bold" fill="#000">North</text>
<circle cx="200.6" cy="303.4" r="8.8" fill="#000"/>
<text x="232.5" y="310.2" font-size="25.5" font-weight="bold" fill="#000">Central</text>
<path d="M192.0 328.1H211.0L201.5 342.6Z" fill="#000"/>
<text x="236" y="341.6" font-size="25.5" font-weight="bold" fill="#000">South</text>
<text x="893.5" y="17.5" font-size="17.2" font-weight="bold" text-anchor="middle" fill="#000">HU</text>
<text x="961.7" y="17.5" font-size="17.2" font-weight="bold" text-anchor="middle" fill="#000">NA</text>
<text x="1000.7" y="17.5" font-size="17.2" font-weight="bold" text-anchor="middle" fill="#000" letter-spacing="1.5">PB2</text>
<text x="1039.4" y="17.5" font-size="17.2" font-weight="bold" text-anchor="middle" fill="#000">PB1</text>
<text x="1076.5" y="17.5" font-size="17.2" font-weight="bold" text-anchor="middle" fill="#000">PA</text>
<text x="1113.2" y="17.5" font-size="17.2" font-weight="bold" text-anchor="middle" fill="#000">NP</text>
<text x="1149.4" y="17.5" font-size="17.2" font-weight="bold" text-anchor="middle" fill="#000">M</text>
<text x="1186.4" y="17.5" font-size="17.2" font-weight="bold" text-anchor="middle" fill="#000" letter-spacing="1.5">NS</text>
<text x="1215" y="17" font-size="22.5" fill="#000" stroke="#000" stroke-width="0.35" textLength="100.3" lengthAdjust="spacingAndGlyphs">Genotype</text>
<text x="1312.4" y="60.1" font-size="24" font-weight="bold" fill="#000">Genotypes</text>
<rect x="1314.4" y="83.4" width="32.1" height="9.4" fill="#c00000"/>
<text x="1356.3" y="93.5" font-size="24" font-weight="bold" fill="#000">VN48 (n=3)</text>
<rect x="1314.4" y="116.4" width="32.1" height="9.4" fill="#008000"/>
<text x="1356.3" y="126.8" font-size="24" font-weight="bold" fill="#000">VN49 (n=1)</text>
<rect x="1314.4" y="149.5" width="32.1" height="9.4" fill="#8b0000"/>
<text x="1356.3" y="160.1" font-size="24" font-weight="bold" fill="#000">VN51 (n=4)</text>
<rect x="1314.4" y="182.5" width="32.1" height="9.4" fill="#c42000"/>
<text x="1356.3" y="193.4" font-size="24" font-weight="bold" fill="#000">VN52 (n=19)</text>
<rect x="1314.4" y="215.5" width="32.1" height="9.4" fill="#ff3300"/>
<text x="1356.3" y="226.7" font-size="24" font-weight="bold" fill="#000">VN53 (n=62)</text>
<rect x="1314.4" y="248.6" width="32.1" height="9.4" fill="#0000ff"/>
<text x="1356.3" y="260.0" font-size="24" font-weight="bold" fill="#000">VN54 (n=14)</text>
<rect x="1314.4" y="281.6" width="32.1" height="9.4" fill="#0000c0"/>
<text x="1356.3" y="293.3" font-size="24" font-weight="bold" fill="#000">VN55 (n=20)</text>
<rect x="1314.4" y="314.6" width="32.1" height="9.4" fill="#000090"/>
<text x="1356.3" y="326.6" font-size="24" font-weight="bold" fill="#000">VN56 (n=1)</text>
<rect x="1314.4" y="347.6" width="32.1" height="9.4" fill="#000066"/>
<text x="1356.3" y="359.9" font-size="24" font-weight="bold" fill="#000">VN57 (n=3)<tspan font-size="21" dy="-5">*</tspan></text>
<rect x="1314.4" y="380.7" width="32.1" height="9.4" fill="#ff9999"/>
<text x="1356.3" y="393.2" font-size="24" font-weight="bold" fill="#000">VN58 (n=1)<tspan font-size="21" dy="-5">*</tspan></text>
<rect x="1314.4" y="413.7" width="32.1" height="9.4" fill="#993366"/>
<text x="1356.3" y="426.5" font-size="24" font-weight="bold" fill="#000">VN59 (n=1)<tspan font-size="21" dy="-5">*</tspan></text>
<rect x="1314.4" y="446.7" width="32.1" height="9.4" fill="#ff9966"/>
<text x="1356.3" y="459.8" font-size="24" font-weight="bold" fill="#000">VN60 (n=3)<tspan font-size="21" dy="-5">*</tspan></text>
<text x="1310.2" y="617" font-size="21.8" font-weight="bold" fill="#000">NA gene</text>
<rect x="1314.5" y="632.0" width="32" height="6.4" fill="#ff3399"/>
<text x="1359" y="646.1" font-size="22" font-weight="bold" fill="#000">N1</text>
<rect x="1314.5" y="667.0" width="32" height="6.4" fill="#1f6fc0"/>
<text x="1359" y="679.5" font-size="22" font-weight="bold" fill="#000">N6</text>
<text x="1314" y="714.5" font-size="21.8" font-weight="bold" fill="#000">6 internal genes</text>
<rect x="1314.5" y="734.2" width="32" height="6.4" fill="#00e8c0"/>
<text x="1359" y="745.6" font-size="22" font-weight="bold" fill="#000">B</text>
<rect x="1314.5" y="767.0" width="32" height="6.4" fill="#5f5f5f"/>
<text x="1359" y="778.4" font-size="22" font-weight="bold" fill="#000">C</text>
<rect x="1314.5" y="799.9" width="32" height="6.4" fill="#66ffff"/>
<text x="1359" y="811.3" font-size="22" font-weight="bold" fill="#000">D</text>
<rect x="1314.5" y="832.7" width="32" height="6.4" fill="#c43000"/>
<text x="1359" y="844.1" font-size="22" font-weight="bold" fill="#000">F</text>
<rect x="1314.5" y="865.5" width="32" height="6.4" fill="#cc0099"/>
<text x="1359" y="876.9" font-size="22" font-weight="bold" fill="#000">G</text>
<rect x="1314.5" y="898.3" width="32" height="6.4" fill="#66ff33"/>
<text x="1359" y="909.8" font-size="22" font-weight="bold" fill="#000">H</text>
<rect x="1314.5" y="931.2" width="32" height="6.4" fill="#ff9900"/>
<text x="1359" y="942.6" font-size="22" font-weight="bold" fill="#000">I</text>
<rect x="1314.5" y="964.0" width="32" height="6.4" fill="#8c8050"/>
<text x="1359" y="975.4" font-size="22" font-weight="bold" fill="#000">J</text>
<path d="M12.4 1100.8V2089.3M164.7 1100.8V2089.3M307.7 1100.8V2089.3M450.7 1100.8V2089.3M593.7 1100.8V2089.3M736.7 1100.8V2089.3M879.7 1100.8V2089.3M1022.7 1100.8V2089.3M1165.7 1100.8V2089.3M1308.7 1100.8V2089.3M11.4 1101.8H1309.7M11.4 1144.0H1309.7M11.4 1199.5H1309.7M11.4 1255.1H1309.7M11.4 1310.7H1309.7M11.4 1366.2H1309.7M11.4 1421.8H1309.7M11.4 1477.3H1309.7M11.4 1532.8H1309.7M11.4 1588.4H1309.7M11.4 1644.0H1309.7M11.4 1699.5H1309.7M11.4 1755.0H1309.7M11.4 1810.6H1309.7M11.4 1866.2H1309.7M11.4 1921.7H1309.7M11.4 1977.2H1309.7M11.4 2032.8H1309.7M11.4 2088.3H1309.7" stroke="#d6d6d6" stroke-width="2" fill="none"/>
<text x="28.5" y="1130.8" font-size="24" font-weight="bold" fill="#000">HA clade</text>
<text x="236.2" y="1131" font-size="24" font-weight="bold" text-anchor="middle" fill="#000">2010</text>
<text x="379.2" y="1131" font-size="24" font-weight="bold" text-anchor="middle" fill="#000">2011</text>
<text x="522.2" y="1131" font-size="24" font-weight="bold" text-anchor="middle" fill="#000">2012</text>
<text x="665.2" y="1131" font-size="24" font-weight="bold" text-anchor="middle" fill="#000">2013</text>
<text x="808.2" y="1131" font-size="24" font-weight="bold" text-anchor="middle" fill="#000">2014</text>
<text x="951.2" y="1131" font-size="24" font-weight="bold" text-anchor="middle" fill="#000">2015</text>
<text x="1094.2" y="1131" font-size="24" font-weight="bold" text-anchor="middle" fill="#000">2016</text>
<text x="1237.2" y="1131" font-size="24" font-weight="bold" text-anchor="middle" fill="#000">2017</text>
<text x="28.5" y="1181.0" font-size="24" font-weight="bold" fill="#00b050">1.1</text>
<text x="28.5" y="1236.5" font-size="24" font-weight="bold" fill="#77933c">1.1.2</text>
<text x="28.5" y="1292.1" font-size="24" font-weight="bold" fill="#c0504d">2.3.2.1a</text>
<text x="28.5" y="1347.7" font-size="24" font-weight="bold" fill="#c0504d">2.3.2.1a</text>
<text x="28.5" y="1403.2" font-size="24" font-weight="bold" fill="#c0504d">2.3.2.1a</text>
<text x="28.5" y="1458.8" font-size="24" font-weight="bold" fill="#c5400f">2.3.2.1b</text>
<text x="28.5" y="1514.3" font-size="24" font-weight="bold" fill="#c5400f">2.3.2.1b</text>
<text x="28.5" y="1569.8" font-size="24" font-weight="bold" fill="#ff0000">2.3.2.1c</text>
<text x="28.5" y="1625.4" font-size="24" font-weight="bold" fill="#ff0000">2.3.2.1c</text>
<text x="28.5" y="1681.0" font-size="24" font-weight="bold" fill="#ff0000">2.3.2.1c</text>
<text x="28.5" y="1736.5" font-size="24" font-weight="bold" fill="#ff0000">2.3.2.1c</text>
<text x="28.5" y="1792.0" font-size="24" font-weight="bold" fill="#ff0000">2.3.2.1c</text>
<text x="28.5" y="1847.6" font-size="24" font-weight="bold" fill="#ff0000">2.3.2.1c</text>
<text x="28.5" y="1903.2" font-size="24" font-weight="bold" fill="#2862b0">2.3.4.4C</text>
<text x="28.5" y="1958.7" font-size="24" font-weight="bold" fill="#5a8ff2">2.3.4.4C1</text>
<text x="28.5" y="2014.2" font-size="24" font-weight="bold" fill="#0a0af5">2.3.4.4D</text>
<text x="28.5" y="2069.8" font-size="24" font-weight="bold" fill="#0a0af5">2.3.4.4D</text>
<line x1="242.0" y1="1171.9" x2="595.0" y2="1171.9" stroke="#63cd90" stroke-width="3.2"/>
<path d="M607.7 1171.9L594.5 1178.3L594.5 1165.5Z" fill="#7fd6a4"/>
<circle cx="242.0" cy="1171.9" r="6.5" fill="#7fd6a4"/>
<line x1="531.0" y1="1227.5" x2="595.0" y2="1227.5" stroke="#96b373" stroke-width="3.2"/>
<path d="M607.7 1227.5L594.5 1233.9L594.5 1221.0Z" fill="#a9c18c"/>
<circle cx="531.0" cy="1227.5" r="6.5" fill="#a9c18c"/>
<line x1="671.0" y1="1227.5" x2="737.6" y2="1227.5" stroke="#96b373" stroke-width="3.2"/>
<path d="M750.3 1227.5L737.1 1233.9L737.1 1221.0Z" fill="#a9c18c"/>
<circle cx="671.0" cy="1227.5" r="6.5" fill="#a9c18c"/>
<line x1="242.0" y1="1283.0" x2="595.0" y2="1283.0" stroke="#e59170" stroke-width="3.2"/>
<path d="M607.7 1283.0L594.5 1289.4L594.5 1276.6Z" fill="#eaa58a"/>
<circle cx="242.0" cy="1283.0" r="6.5" fill="#eaa58a"/>
<line x1="386.0" y1="1315.7" x2="450.6" y2="1333.9" stroke="#e59170" stroke-width="3.2"/>
<path d="M462.8 1337.4L448.4 1340.0L451.8 1327.7Z" fill="#eaa58a"/>
<circle cx="386.0" cy="1315.7" r="6.5" fill="#eaa58a"/>
<line x1="386.0" y1="1315.7" x2="449.6" y2="1376.7" stroke="#e59170" stroke-width="3.2"/>
<path d="M458.8 1385.5L444.8 1381.0L453.7 1371.7Z" fill="#eaa58a"/>
<circle cx="386.0" cy="1315.7" r="6.5" fill="#eaa58a"/>
<line x1="242.0" y1="1449.7" x2="595.0" y2="1449.7" stroke="#f5a162" stroke-width="3.2"/>
<path d="M607.7 1449.7L594.5 1456.1L594.5 1443.2Z" fill="#f7b27e"/>
<circle cx="242.0" cy="1449.7" r="6.5" fill="#f7b27e"/>
<line x1="386.0" y1="1485.0" x2="451.3" y2="1502.2" stroke="#f5a162" stroke-width="3.2"/>
<path d="M463.6 1505.4L449.2 1508.2L452.5 1495.9Z" fill="#f7b27e"/>
<circle cx="386.0" cy="1485.0" r="6.5" fill="#f7b27e"/>
<line x1="386.6" y1="1560.8" x2="452.4" y2="1560.8" stroke="#ff2323" stroke-width="3.2"/>
<path d="M465.1 1560.8L451.9 1567.2L451.9 1554.3Z" fill="#ff4b4b"/>
<circle cx="386.6" cy="1560.8" r="6.5" fill="#ff4b4b"/>
<line x1="528.0" y1="1560.8" x2="880.2" y2="1560.8" stroke="#ff2323" stroke-width="3.2"/>
<path d="M892.9 1560.8L879.7 1567.2L879.7 1554.3Z" fill="#ff4b4b"/>
<circle cx="528.0" cy="1560.8" r="6.5" fill="#ff4b4b"/>
<line x1="531.0" y1="1593.7" x2="595.1" y2="1612.2" stroke="#ff2323" stroke-width="3.2"/>
<path d="M607.3 1615.7L592.8 1618.2L596.4 1605.9Z" fill="#ff4b4b"/>
<circle cx="531.0" cy="1593.7" r="6.5" fill="#ff4b4b"/>
<line x1="531.0" y1="1593.7" x2="596.5" y2="1662.7" stroke="#ff2323" stroke-width="3.2"/>
<path d="M605.2 1671.9L591.5 1666.7L600.8 1657.9Z" fill="#ff4b4b"/>
<circle cx="531.0" cy="1593.7" r="6.5" fill="#ff4b4b"/>
<line x1="671.0" y1="1616.3" x2="737.6" y2="1616.3" stroke="#ff2323" stroke-width="3.2"/>
<path d="M750.3 1616.3L737.1 1622.7L737.1 1609.9Z" fill="#ff4b4b"/>
<circle cx="671.0" cy="1616.3" r="6.5" fill="#ff4b4b"/>
<line x1="671.0" y1="1671.9" x2="880.2" y2="1671.9" stroke="#ff2323" stroke-width="3.2"/>
<path d="M892.9 1671.9L879.7 1678.3L879.7 1665.5Z" fill="#ff4b4b"/>
<circle cx="671.0" cy="1671.9" r="6.5" fill="#ff4b4b"/>
<line x1="672.8" y1="1704.2" x2="736.6" y2="1722.8" stroke="#ff2323" stroke-width="3.2"/>
<path d="M748.8 1726.3L734.3 1728.8L737.9 1716.5Z" fill="#ff4b4b"/>
<circle cx="672.8" cy="1704.2" r="6.5" fill="#ff4b4b"/>
<line x1="672.8" y1="1704.2" x2="736.0" y2="1766.5" stroke="#ff2323" stroke-width="3.2"/>
<path d="M745.0 1775.4L731.1 1770.7L740.1 1761.6Z" fill="#ff4b4b"/>
<circle cx="672.8" cy="1704.2" r="6.5" fill="#ff4b4b"/>
<line x1="672.8" y1="1704.2" x2="740.2" y2="1824.5" stroke="#ff2323" stroke-width="3.2"/>
<path d="M746.4 1835.6L734.4 1827.2L745.5 1821.0Z" fill="#ff4b4b"/>
<circle cx="672.8" cy="1704.2" r="6.5" fill="#ff4b4b"/>
<line x1="814.0" y1="1727.4" x2="1165.4" y2="1727.4" stroke="#ff2323" stroke-width="3.2"/>
<path d="M1178.1 1727.4L1164.9 1733.8L1164.9 1721.0Z" fill="#ff4b4b"/>
<circle cx="814.0" cy="1727.4" r="6.5" fill="#ff4b4b"/>
<line x1="1103.5" y1="1761.0" x2="1167.2" y2="1777.1" stroke="#ff2323" stroke-width="3.2"/>
<path d="M1179.5 1780.2L1165.1 1783.2L1168.3 1770.8Z" fill="#ff4b4b"/>
<circle cx="1103.5" cy="1761.0" r="6.5" fill="#ff4b4b"/>
<line x1="814.0" y1="1894.1" x2="880.2" y2="1894.1" stroke="#4f79c4" stroke-width="3.2"/>
<path d="M892.9 1894.1L879.7 1900.5L879.7 1887.7Z" fill="#6f91cf"/>
<circle cx="814.0" cy="1894.1" r="6.5" fill="#6f91cf"/>
<line x1="1100.0" y1="1949.6" x2="1165.4" y2="1949.6" stroke="#3676ef" stroke-width="3.2"/>
<path d="M1178.1 1949.6L1164.9 1956.0L1164.9 1943.2Z" fill="#5a8ff2"/>
<circle cx="1100.0" cy="1949.6" r="6.5" fill="#5a8ff2"/>
<line x1="669.8" y1="2005.2" x2="737.6" y2="2005.2" stroke="#2a2aed" stroke-width="3.2"/>
<path d="M750.3 2005.2L737.1 2011.6L737.1 1998.8Z" fill="#5050f0"/>
<circle cx="669.8" cy="2005.2" r="6.5" fill="#5050f0"/>
<line x1="814.0" y1="2005.2" x2="1022.8" y2="2005.2" stroke="#2a2aed" stroke-width="3.2"/>
<path d="M1035.5 2005.2L1022.3 2011.6L1022.3 1998.8Z" fill="#5050f0"/>
<circle cx="814.0" cy="2005.2" r="6.5" fill="#5050f0"/>
<line x1="815.9" y1="2038.2" x2="880.3" y2="2056.5" stroke="#2a2aed" stroke-width="3.2"/>
<path d="M892.5 2060.0L878.1 2062.5L881.6 2050.2Z" fill="#5050f0"/>
<circle cx="815.9" cy="2038.2" r="6.5" fill="#5050f0"/>
<ellipse cx="208.9" cy="1171.9" rx="22.55" ry="21.8" fill="none" stroke="#00b050" stroke-width="4.4"/>
<text x="208.9" y="1166.0" font-size="16.5" text-anchor="middle" fill="#000" stroke="#000" stroke-width="0.4">VN</text>
<text x="208.9" y="1187.7" font-size="16.5" text-anchor="middle" fill="#000" stroke="#000" stroke-width="0.4">3</text>
<text x="293.5" y="1159.5" font-size="16.6" font-weight="bold" text-anchor="end" fill="#000">3</text>
<path d="M279.2 1151.4h5.6M282.0 1147.6v3.8" stroke="#000" stroke-width="1.7" fill="none"/>
<path d="M278.5 1184.0H293.5L286.0 1196.0Z" fill="#000"/>
<ellipse cx="351.5" cy="1171.9" rx="22.55" ry="21.8" fill="none" stroke="#00b050" stroke-width="4.4"/>
<text x="351.5" y="1166.0" font-size="16.5" text-anchor="middle" fill="#000" stroke="#000" stroke-width="0.4">VN</text>
<text x="351.5" y="1187.7" font-size="16.5" text-anchor="middle" fill="#000" stroke="#000" stroke-width="0.4">3</text>
<text x="436.2" y="1159.6" font-size="16.6" font-weight="bold" text-anchor="end" fill="#000">15</text>
<path d="M421.2 1184.0H436.2L428.7 1196.0Z" fill="#000"/>
<ellipse cx="494.1" cy="1171.9" rx="22.55" ry="21.8" fill="none" stroke="#00b050" stroke-width="4.4"/>
<text x="494.1" y="1166.0" font-size="16.5" text-anchor="middle" fill="#000" stroke="#000" stroke-width="0.4">VN</text>
<text x="494.1" y="1187.7" font-size="16.5" text-anchor="middle" fill="#000" stroke="#000" stroke-width="0.4">3</text>
<text x="578.9" y="1159.6" font-size="16.6" font-weight="bold" text-anchor="end" fill="#000">11</text>
<circle cx="556.8" cy="1190.0" r="6.3" fill="#000"/>
<path d="M563.9 1184.0H578.9L571.4 1196.0Z" fill="#000"/>
<ellipse cx="636.7" cy="1171.9" rx="22.55" ry="21.8" fill="none" stroke="#00b050" stroke-width="4.4"/>
<text x="636.7" y="1166.0" font-size="16.5" text-anchor="middle" fill="#000" stroke="#000" stroke-width="0.4">VN</text>
<text x="636.7" y="1187.7" font-size="16.5" text-anchor="middle" fill="#000" stroke="#000" stroke-width="0.4">3</text>
<text x="721.6" y="1159.6" font-size="16.6" font-weight="bold" text-anchor="end" fill="#000">9</text>
<path d="M706.6 1184.0H721.6L714.1 1196.0Z" fill="#000"/>
<ellipse cx="636.7" cy="1227.5" rx="22.55" ry="21.8" fill="none" stroke="#76923c" stroke-width="4.4"/>
<text x="636.7" y="1221.5" font-size="16.5" text-anchor="middle" fill="#000" stroke="#000" stroke-width="0.4">VN</text>
<text x="636.7" y="1243.2" font-size="16.5" text-anchor="middle" fill="#000" stroke="#000" stroke-width="0.4">49</text>
<text x="721.6" y="1215.1" font-size="16.6" font-weight="bold" text-anchor="end" fill="#000">8</text>
<path d="M692.0 1239.5H707.0L699.5 1251.5Z" fill="#000"/>
<path d="M706.6 1251.5H721.6L714.1 1239.5Z" fill="#000"/>
<ellipse cx="779.3" cy="1227.5" rx="22.55" ry="21.8" fill="none" stroke="#76923c" stroke-width="4.4"/>
<text x="779.3" y="1221.5" font-size="16.5" text-anchor="middle" fill="#000" stroke="#000" stroke-width="0.4">VN</text>
<text x="779.3" y="1243.2" font-size="16.5" text-anchor="middle" fill="#000" stroke="#000" stroke-width="0.4">49</text>
<text x="864.3" y="1215.1" font-size="16.6" font-weight="bold" text-anchor="end" fill="#000">1</text>
<path d="M849.3 1239.5H864.3L856.8 1251.5Z" fill="#000"/>
<ellipse cx="208.9" cy="1283.0" rx="20.6" ry="21.35" fill="none" stroke="#c55a11" stroke-width="4.8"/>
<text x="208.9" y="1277.1" font-size="16.5" text-anchor="middle" fill="#000" stroke="#000" stroke-width="0.4">VN</text>
<text x="208.9" y="1298.8" font-size="16.5" text-anchor="middle" fill="#000" stroke="#000" stroke-width="0.4">12</text>
<text x="293.5" y="1270.7" font-size="16.6" font-weight="bold" text-anchor="end" fill="#000">6</text>
<circle cx="271.4" cy="1301.1" r="6.3" fill="#000"/>
<path d="M278.5 1307.1H293.5L286.0 1295.1Z" fill="#000"/>
<ellipse cx="351.5" cy="1283.0" rx="20.6" ry="21.35" fill="none" stroke="#c55a11" stroke-width="4.8"/>
<text x="351.5" y="1277.1" font-size="16.5" text-anchor="middle" fill="#000" stroke="#000" stroke-width="0.4">VN</text>
<text x="351.5" y="1298.8" font-size="16.5" text-anchor="middle" fill="#000" stroke="#000" stroke-width="0.4">12</text>
<text x="436.2" y="1270.7" font-size="16.6" font-weight="bold" text-anchor="end" fill="#000">56</text>
<circle cx="414.1" cy="1301.1" r="6.3" fill="#000"/>
<path d="M421.2 1307.1H436.2L428.7 1295.1Z" fill="#000"/>
<ellipse cx="494.1" cy="1283.0" rx="20.6" ry="21.35" fill="none" stroke="#c55a11" stroke-width="4.8"/>
<text x="494.1" y="1277.1" font-size="16.5" text-anchor="middle" fill="#000" stroke="#000" stroke-width="0.4">VN</text>
<text x="494.1" y="1298.8" font-size="16.5" text-anchor="middle" fill="#000" stroke="#000" stroke-width="0.4">12</text>
<text x="578.9" y="1270.7" font-size="16.6" font-weight="bold" text-anchor="end" fill="#000">25</text>
<circle cx="556.8" cy="1301.1" r="6.3" fill="#000"/>
<path d="M563.9 1307.1H578.9L571.4 1295.1Z" fill="#000"/>
<ellipse cx="636.7" cy="1283.0" rx="20.6" ry="21.35" fill="none" stroke="#c55a11" stroke-width="4.8"/>
<text x="636.7" y="1277.1" font-size="16.5" text-anchor="middle" fill="#000" stroke="#000" stroke-width="0.4">VN</text>
<text x="636.7" y="1298.8" font-size="16.5" text-anchor="middle" fill="#000" stroke="#000" stroke-width="0.4">12</text>
<text x="721.6" y="1270.7" font-size="16.6" font-weight="bold" text-anchor="end" fill="#000">3</text>
<circle cx="699.5" cy="1301.1" r="6.3" fill="#000"/>
<path d="M706.6 1295.1H721.6L714.1 1307.1Z" fill="#000"/>
<ellipse cx="494.1" cy="1338.6" rx="20.6" ry="21.35" fill="none" stroke="#c55a11" stroke-width="4.8"/>
<text x="494.1" y="1332.7" font-size="16.5" text-anchor="middle" fill="#000" stroke="#000" stroke-width="0.4">VN</text>
<text x="494.1" y="1354.4" font-size="16.5" text-anchor="middle" fill="#000" stroke="#000" stroke-width="0.4">46</text>
<text x="578.9" y="1326.2" font-size="16.6" font-weight="bold" text-anchor="end" fill="#000">4</text>
<circle cx="556.8" cy="1356.7" r="6.3" fill="#000"/>
<path d="M563.9 1350.7H578.9L571.4 1362.7Z" fill="#000"/>
<ellipse cx="494.1" cy="1394.1" rx="20.6" ry="21.35" fill="none" stroke="#c55a11" stroke-width="4.8"/>
<text x="494.1" y="1388.2" font-size="16.5" text-anchor="middle" fill="#000" stroke="#000" stroke-width="0.4">VN</text>
<text x="494.1" y="1409.9" font-size="16.5" text-anchor="middle" fill="#000" stroke="#000" stroke-width="0.4">50</text>
<text x="578.9" y="1381.8" font-size="16.6" font-weight="bold" text-anchor="end" fill="#000">1</text>
<circle cx="571.4" cy="1412.2" r="6.3" fill="#000"/>
<ellipse cx="208.9" cy="1449.7" rx="20.6" ry="21.35" fill="none" stroke="#f26d17" stroke-width="4.8"/>
<text x="208.9" y="1443.8" font-size="16.5" text-anchor="middle" fill="#000" stroke="#000" stroke-width="0.4">VN</text>
<text x="208.9" y="1465.5" font-size="16.5" text-anchor="middle" fill="#000" stroke="#000" stroke-width="0.4">45</text>
<text x="293.5" y="1437.3" font-size="16.6" font-weight="bold" text-anchor="end" fill="#000">1</text>
<circle cx="286.0" cy="1467.8" r="6.3" fill="#000"/>
<ellipse cx="351.5" cy="1449.7" rx="20.6" ry="21.35" fill="none" stroke="#f26d17" stroke-width="4.8"/>
<text x="351.5" y="1443.8" font-size="16.5" text-anchor="middle" fill="#000" stroke="#000" stroke-width="0.4">VN</text>
<text x="351.5" y="1465.5" font-size="16.5" text-anchor="middle" fill="#000" stroke="#000" stroke-width="0.4">45</text>
<text x="436.2" y="1437.3" font-size="16.6" font-weight="bold" text-anchor="end" fill="#000">13</text>
<circle cx="414.1" cy="1467.8" r="6.3" fill="#000"/>
<path d="M421.2 1461.8H436.2L428.7 1473.8Z" fill="#000"/>
<ellipse cx="494.1" cy="1449.7" rx="20.6" ry="21.35" fill="none" stroke="#f26d17" stroke-width="4.8"/>
<text x="494.1" y="1443.8" font-size="16.5" text-anchor="middle" fill="#000" stroke="#000" stroke-width="0.4">VN</text>
<text x="494.1" y="1465.5" font-size="16.5" text-anchor="middle" fill="#000" stroke="#000" stroke-width="0.4">45</text>
<text x="578.9" y="1437.3" font-size="16.6" font-weight="bold" text-anchor="end" fill="#000">5</text>
<path d="M563.9 1473.8H578.9L571.4 1461.8Z" fill="#000"/>
<ellipse cx="636.7" cy="1449.7" rx="20.6" ry="21.35" fill="none" stroke="#f26d17" stroke-width="4.8"/>
<text x="636.7" y="1443.8" font-size="16.5" text-anchor="middle" fill="#000" stroke="#000" stroke-width="0.4">VN</text>
<text x="636.7" y="1465.5" font-size="16.5" text-anchor="middle" fill="#000" stroke="#000" stroke-width="0.4">45</text>
<text x="721.6" y="1437.3" font-size="16.6" font-weight="bold" text-anchor="end" fill="#000">1</text>
<path d="M706.6 1473.8H721.6L714.1 1461.8Z" fill="#000"/>
<ellipse cx="494.1" cy="1505.2" rx="20.6" ry="21.35" fill="none" stroke="#f26d17" stroke-width="4.8"/>
<text x="494.1" y="1499.3" font-size="16.5" text-anchor="middle" fill="#000" stroke="#000" stroke-width="0.4">VN</text>
<text x="494.1" y="1521.0" font-size="16.5" text-anchor="middle" fill="#000" stroke="#000" stroke-width="0.4">47</text>
<text x="578.9" y="1492.9" font-size="16.6" font-weight="bold" text-anchor="end" fill="#000">1</text>
<path d="M563.9 1529.3H578.9L571.4 1517.3Z" fill="#000"/>
<ellipse cx="494.1" cy="1560.8" rx="20.6" ry="21.35" fill="none" stroke="#ff0000" stroke-width="4.8"/>
<text x="494.1" y="1554.8" font-size="16.5" text-anchor="middle" fill="#000" stroke="#000" stroke-width="0.4">VN</text>
<text x="494.1" y="1576.5" font-size="16.5" text-anchor="middle" fill="#000" stroke="#000" stroke-width="0.4">48</text>
<text x="578.9" y="1548.4" font-size="16.6" font-weight="bold" text-anchor="end" fill="#000">33</text>
<path d="M549.3 1572.8H564.3L556.8 1584.8Z" fill="#000"/>
<path d="M563.9 1584.8H578.9L571.4 1572.8Z" fill="#000"/>
<ellipse cx="636.7" cy="1560.8" rx="20.6" ry="21.35" fill="none" stroke="#ff0000" stroke-width="4.8"/>
<text x="636.7" y="1554.8" font-size="16.5" text-anchor="middle" fill="#000" stroke="#000" stroke-width="0.4">VN</text>
<text x="636.7" y="1576.5" font-size="16.5" text-anchor="middle" fill="#000" stroke="#000" stroke-width="0.4">48</text>
<text x="721.6" y="1548.4" font-size="16.6" font-weight="bold" text-anchor="end" fill="#000">31</text>
<path d="M677.4 1572.8H692.4L684.9 1584.8Z" fill="#000"/>
<circle cx="699.5" cy="1578.8" r="6.3" fill="#000"/>
<path d="M706.6 1584.8H721.6L714.1 1572.8Z" fill="#000"/>
<ellipse cx="779.3" cy="1560.8" rx="20.6" ry="21.35" fill="none" stroke="#ff0000" stroke-width="4.8"/>
<text x="779.3" y="1554.8" font-size="16.5" text-anchor="middle" fill="#000" stroke="#000" stroke-width="0.4">VN</text>
<text x="779.3" y="1576.5" font-size="16.5" text-anchor="middle" fill="#000" stroke="#000" stroke-width="0.4">48</text>
<text x="864.3" y="1548.4" font-size="16.6" font-weight="bold" text-anchor="end" fill="#000">1</text>
<circle cx="856.8" cy="1578.8" r="6.3" fill="#000"/>
<ellipse cx="921.9" cy="1560.8" rx="20.6" ry="21.35" fill="none" stroke="#ff0000" stroke-width="4.8"/>
<text x="921.9" y="1554.8" font-size="16.5" text-anchor="middle" fill="#000" stroke="#000" stroke-width="0.4">VN</text>
<text x="921.9" y="1576.5" font-size="16.5" text-anchor="middle" fill="#000" stroke="#000" stroke-width="0.4">48</text>
<text x="1007.0" y="1548.4" font-size="16.6" font-weight="bold" text-anchor="end" fill="#000">2</text>
<circle cx="999.5" cy="1578.8" r="6.3" fill="#000"/>
<ellipse cx="636.7" cy="1616.3" rx="20.6" ry="21.35" fill="none" stroke="#ff0000" stroke-width="4.8"/>
<text x="636.7" y="1610.4" font-size="16.5" text-anchor="middle" fill="#000" stroke="#000" stroke-width="0.4">VN</text>
<text x="636.7" y="1632.1" font-size="16.5" text-anchor="middle" fill="#000" stroke="#000" stroke-width="0.4">51</text>
<text x="721.6" y="1604.0" font-size="16.6" font-weight="bold" text-anchor="end" fill="#000">1</text>
<path d="M706.6 1640.4H721.6L714.1 1628.4Z" fill="#000"/>
<ellipse cx="779.3" cy="1616.3" rx="20.6" ry="21.35" fill="none" stroke="#ff0000" stroke-width="4.8"/>
<text x="779.3" y="1610.4" font-size="16.5" text-anchor="middle" fill="#000" stroke="#000" stroke-width="0.4">VN</text>
<text x="779.3" y="1632.1" font-size="16.5" text-anchor="middle" fill="#000" stroke="#000" stroke-width="0.4">51</text>
<text x="864.3" y="1604.0" font-size="16.6" font-weight="bold" text-anchor="end" fill="#000">4</text>
<path d="M849.3 1640.4H864.3L856.8 1628.4Z" fill="#000"/>
<ellipse cx="636.7" cy="1671.9" rx="20.6" ry="21.35" fill="none" stroke="#ff0000" stroke-width="4.8"/>
<text x="636.7" y="1666.0" font-size="16.5" text-anchor="middle" fill="#000" stroke="#000" stroke-width="0.4">VN</text>
<text x="636.7" y="1687.7" font-size="16.5" text-anchor="middle" fill="#000" stroke="#000" stroke-width="0.4">52</text>
<text x="721.6" y="1659.5" font-size="16.6" font-weight="bold" text-anchor="end" fill="#000">1</text>
<path d="M706.6 1696.0H721.6L714.1 1684.0Z" fill="#000"/>
<ellipse cx="779.3" cy="1671.9" rx="20.6" ry="21.35" fill="none" stroke="#ff0000" stroke-width="4.8"/>
<text x="779.3" y="1666.0" font-size="16.5" text-anchor="middle" fill="#000" stroke="#000" stroke-width="0.4">VN</text>
<text x="779.3" y="1687.7" font-size="16.5" text-anchor="middle" fill="#000" stroke="#000" stroke-width="0.4">52</text>
<text x="864.3" y="1659.5" font-size="16.6" font-weight="bold" text-anchor="end" fill="#000">13</text>
<circle cx="842.2" cy="1690.0" r="6.3" fill="#000"/>
<path d="M849.3 1684.0H864.3L856.8 1696.0Z" fill="#000"/>
<ellipse cx="921.9" cy="1671.9" rx="20.6" ry="21.35" fill="none" stroke="#ff0000" stroke-width="4.8"/>
<text x="921.9" y="1666.0" font-size="16.5" text-anchor="middle" fill="#000" stroke="#000" stroke-width="0.4">VN</text>
<text x="921.9" y="1687.7" font-size="16.5" text-anchor="middle" fill="#000" stroke="#000" stroke-width="0.4">52</text>
<text x="1007.0" y="1659.5" font-size="16.6" font-weight="bold" text-anchor="end" fill="#000">6</text>
<circle cx="984.9" cy="1690.0" r="6.3" fill="#000"/>
<path d="M992.0 1684.0H1007.0L999.5 1696.0Z" fill="#000"/>
<ellipse cx="779.3" cy="1727.4" rx="20.6" ry="21.35" fill="none" stroke="#ff0000" stroke-width="4.8"/>
<text x="779.3" y="1721.5" font-size="16.5" text-anchor="middle" fill="#000" stroke="#000" stroke-width="0.4">VN</text>
<text x="779.3" y="1743.2" font-size="16.5" text-anchor="middle" fill="#000" stroke="#000" stroke-width="0.4">53</text>
<text x="864.3" y="1715.1" font-size="16.6" font-weight="bold" text-anchor="end" fill="#000">11</text>
<path d="M849.3 1739.5H864.3L856.8 1751.5Z" fill="#000"/>
<ellipse cx="921.9" cy="1727.4" rx="20.6" ry="21.35" fill="none" stroke="#ff0000" stroke-width="4.8"/>
<text x="921.9" y="1721.5" font-size="16.5" text-anchor="middle" fill="#000" stroke="#000" stroke-width="0.4">VN</text>
<text x="921.9" y="1743.2" font-size="16.5" text-anchor="middle" fill="#000" stroke="#000" stroke-width="0.4">53</text>
<text x="1007.0" y="1715.1" font-size="16.6" font-weight="bold" text-anchor="end" fill="#000">42</text>
<path d="M992.0 1739.5H1007.0L999.5 1751.5Z" fill="#000"/>
<ellipse cx="1064.5" cy="1727.4" rx="20.6" ry="21.35" fill="none" stroke="#ff0000" stroke-width="4.8"/>
<text x="1064.5" y="1721.5" font-size="16.5" text-anchor="middle" fill="#000" stroke="#000" stroke-width="0.4">VN</text>
<text x="1064.5" y="1743.2" font-size="16.5" text-anchor="middle" fill="#000" stroke="#000" stroke-width="0.4">53</text>
<text x="1149.7" y="1715.1" font-size="16.6" font-weight="bold" text-anchor="end" fill="#000">5</text>
<path d="M1134.7 1739.5H1149.7L1142.2 1751.5Z" fill="#000"/>
<ellipse cx="1207.1" cy="1727.4" rx="20.6" ry="21.35" fill="none" stroke="#ff0000" stroke-width="4.8"/>
<text x="1207.1" y="1721.5" font-size="16.5" text-anchor="middle" fill="#000" stroke="#000" stroke-width="0.4">VN</text>
<text x="1207.1" y="1743.2" font-size="16.5" text-anchor="middle" fill="#000" stroke="#000" stroke-width="0.4">53</text>
<text x="1292.4" y="1715.1" font-size="16.6" font-weight="bold" text-anchor="end" fill="#000">4</text>
<path d="M1277.4 1739.5H1292.4L1284.9 1751.5Z" fill="#000"/>
<ellipse cx="779.3" cy="1783.0" rx="20.6" ry="21.35" fill="none" stroke="#ff0000" stroke-width="4.8"/>
<text x="779.3" y="1777.0" font-size="16.5" text-anchor="middle" fill="#000" stroke="#000" stroke-width="0.4">VN</text>
<text x="779.3" y="1798.8" font-size="16.5" text-anchor="middle" fill="#000" stroke="#000" stroke-width="0.4">58</text>
<text x="864.3" y="1770.6" font-size="16.6" font-weight="bold" text-anchor="end" fill="#000">1</text>
<path d="M849.3 1795.0H864.3L856.8 1807.0Z" fill="#000"/>
<ellipse cx="1207.1" cy="1783.0" rx="20.6" ry="21.35" fill="none" stroke="#ff0000" stroke-width="4.8"/>
<text x="1207.1" y="1777.0" font-size="16.5" text-anchor="middle" fill="#000" stroke="#000" stroke-width="0.4">VN</text>
<text x="1207.1" y="1798.8" font-size="16.5" text-anchor="middle" fill="#000" stroke="#000" stroke-width="0.4">60</text>
<text x="1292.4" y="1770.6" font-size="16.6" font-weight="bold" text-anchor="end" fill="#000">3</text>
<path d="M1277.4 1795.0H1292.4L1284.9 1807.0Z" fill="#000"/>
<ellipse cx="779.3" cy="1838.5" rx="20.6" ry="21.35" fill="none" stroke="#ff0000" stroke-width="4.8"/>
<text x="779.3" y="1832.6" font-size="16.5" text-anchor="middle" fill="#000" stroke="#000" stroke-width="0.4">VN</text>
<text x="779.3" y="1854.3" font-size="16.5" text-anchor="middle" fill="#000" stroke="#000" stroke-width="0.4">59</text>
<text x="864.3" y="1826.2" font-size="16.6" font-weight="bold" text-anchor="end" fill="#000">1</text>
<path d="M849.3 1862.6H864.3L856.8 1850.6Z" fill="#000"/>
<ellipse cx="779.3" cy="1894.1" rx="20.4" ry="20.9" fill="none" stroke="#2e62a8" stroke-width="4.5"/>
<text x="779.3" y="1888.2" font-size="16.5" text-anchor="middle" fill="#000" stroke="#000" stroke-width="0.4">VN</text>
<text x="779.3" y="1909.9" font-size="16.5" text-anchor="middle" fill="#000" stroke="#000" stroke-width="0.4">54</text>
<text x="864.3" y="1881.8" font-size="16.6" font-weight="bold" text-anchor="end" fill="#000">9</text>
<path d="M834.7 1918.2H849.7L842.2 1906.2Z" fill="#000"/>
<circle cx="856.8" cy="1912.2" r="6.3" fill="#000"/>
<ellipse cx="921.9" cy="1894.1" rx="20.4" ry="20.9" fill="none" stroke="#2e62a8" stroke-width="4.5"/>
<text x="921.9" y="1888.2" font-size="16.5" text-anchor="middle" fill="#000" stroke="#000" stroke-width="0.4">VN</text>
<text x="921.9" y="1909.9" font-size="16.5" text-anchor="middle" fill="#000" stroke="#000" stroke-width="0.4">54</text>
<text x="1007.0" y="1881.8" font-size="16.6" font-weight="bold" text-anchor="end" fill="#000">5</text>
<path d="M977.4 1918.2H992.4L984.9 1906.2Z" fill="#000"/>
<circle cx="999.5" cy="1912.2" r="6.3" fill="#000"/>
<ellipse cx="1207.1" cy="1949.6" rx="20.4" ry="20.9" fill="none" stroke="#5b93d3" stroke-width="4.5"/>
<text x="1207.1" y="1943.7" font-size="16.5" text-anchor="middle" fill="#000" stroke="#000" stroke-width="0.4">VN</text>
<text x="1207.1" y="1965.4" font-size="16.5" text-anchor="middle" fill="#000" stroke="#000" stroke-width="0.4">57</text>
<text x="1292.4" y="1937.3" font-size="16.6" font-weight="bold" text-anchor="end" fill="#000">3</text>
<path d="M1277.4 1973.7H1292.4L1284.9 1961.7Z" fill="#000"/>
<ellipse cx="630.4" cy="2005.2" rx="20.4" ry="20.9" fill="none" stroke="#0000e6" stroke-width="4.5"/>
<text x="630.4" y="1999.2" font-size="16.5" text-anchor="middle" fill="#000" stroke="#000" stroke-width="0.4">VN</text>
<text x="630.4" y="2021.0" font-size="16.5" text-anchor="middle" fill="#000" stroke="#000" stroke-width="0.4">55?</text>
<text x="721.6" y="1992.8" font-size="16.6" font-weight="bold" text-anchor="end" fill="#000">2</text>
<path d="M706.6 2029.2H721.6L714.1 2017.2Z" fill="#000"/>
<ellipse cx="779.3" cy="2005.2" rx="20.4" ry="20.9" fill="none" stroke="#0000e6" stroke-width="4.5"/>
<text x="779.3" y="1999.2" font-size="16.5" text-anchor="middle" fill="#000" stroke="#000" stroke-width="0.4">VN</text>
<text x="779.3" y="2021.0" font-size="16.5" text-anchor="middle" fill="#000" stroke="#000" stroke-width="0.4">55</text>
<text x="864.3" y="1992.8" font-size="16.6" font-weight="bold" text-anchor="end" fill="#000">9</text>
<path d="M849.3 2029.2H864.3L856.8 2017.2Z" fill="#000"/>
<ellipse cx="921.9" cy="2005.2" rx="20.4" ry="20.9" fill="none" stroke="#0000e6" stroke-width="4.5"/>
<text x="921.9" y="1999.2" font-size="16.5" text-anchor="middle" fill="#000" stroke="#000" stroke-width="0.4">VN</text>
<text x="921.9" y="2021.0" font-size="16.5" text-anchor="middle" fill="#000" stroke="#000" stroke-width="0.4">55</text>
<text x="1007.0" y="1992.8" font-size="16.6" font-weight="bold" text-anchor="end" fill="#000">10</text>
<path d="M977.4 2029.2H992.4L984.9 2017.2Z" fill="#000"/>
<circle cx="999.5" cy="2023.2" r="6.3" fill="#000"/>
<ellipse cx="1064.5" cy="2005.2" rx="20.4" ry="20.9" fill="none" stroke="#0000e6" stroke-width="4.5"/>
<text x="1064.5" y="1999.2" font-size="16.5" text-anchor="middle" fill="#000" stroke="#000" stroke-width="0.4">VN</text>
<text x="1064.5" y="2021.0" font-size="16.5" text-anchor="middle" fill="#000" stroke="#000" stroke-width="0.4">55</text>
<text x="1149.7" y="1992.8" font-size="16.6" font-weight="bold" text-anchor="end" fill="#000">1</text>
<path d="M1134.7 2029.2H1149.7L1142.2 2017.2Z" fill="#000"/>
<ellipse cx="921.9" cy="2060.7" rx="20.4" ry="20.9" fill="none" stroke="#0000e6" stroke-width="4.5"/>
<text x="921.9" y="2054.8" font-size="16.5" text-anchor="middle" fill="#000" stroke="#000" stroke-width="0.4">VN</text>
<text x="921.9" y="2076.5" font-size="16.5" text-anchor="middle" fill="#000" stroke="#000" stroke-width="0.4">56</text>
<text x="1007.0" y="2048.4" font-size="16.6" font-weight="bold" text-anchor="end" fill="#000">1</text>
<circle cx="999.5" cy="2078.8" r="6.3" fill="#000"/>
</svg>
</body></html>
